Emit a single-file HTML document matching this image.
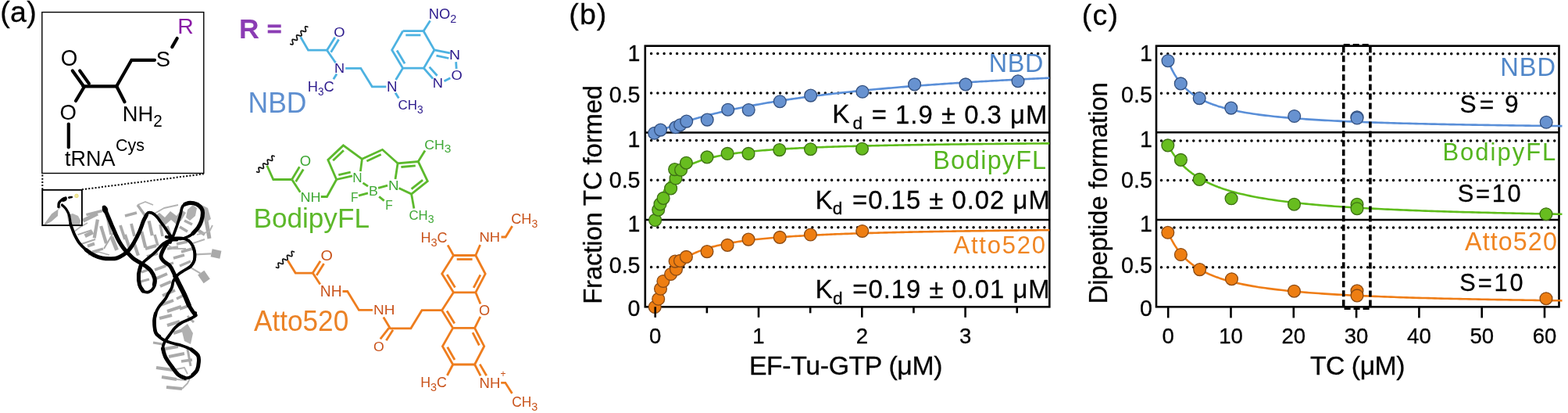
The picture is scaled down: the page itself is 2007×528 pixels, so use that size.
<!DOCTYPE html>
<html><head><meta charset="utf-8"><title>Figure</title>
<style>
html,body{margin:0;padding:0;background:#fff;}
svg{display:block;}
text{font-family:"Liberation Sans", sans-serif;}
</style></head><body>
<svg width="2007" height="528" viewBox="0 0 2007 528">
<rect width="2007" height="528" fill="#fff"/>
<path d="M56.5,286.5 L62.0,279.0 L66.0,273.5 L70.0,270.5 L74.5,267.5 L74.0,276.0 L66.0,283.0 L58.0,287.5Z" fill="#ababab"/>
<path d="M86.0,275.0 L93.0,273.0 L100.0,276.0 L103.0,282.0 L102.0,287.5 L90.0,287.5 L87.0,282.0Z" fill="#b3b3b3"/>
<path d="M74.5,268.0 L80.0,262.0" fill="none" stroke="#c8c8c8" stroke-width="1.2" stroke-linejoin="round"/>
<line x1="106.2" y1="282.3" x2="124.9" y2="272.9" stroke="#aaaaaa" stroke-width="5"/>
<line x1="110.4" y1="274.6" x2="130.9" y2="269.5" stroke="#aaaaaa" stroke-width="3.5"/>
<line x1="124.9" y1="280.6" x2="120.7" y2="304.4" stroke="#aaaaaa" stroke-width="4.2"/>
<line x1="99.4" y1="300.1" x2="117.3" y2="294.2" stroke="#aaaaaa" stroke-width="2"/>
<line x1="108.7" y1="301.8" x2="119.0" y2="296.7" stroke="#aaaaaa" stroke-width="5"/>
<line x1="129.2" y1="289.0" x2="136.0" y2="311.2" stroke="#aaaaaa" stroke-width="4.2"/>
<line x1="142.8" y1="302.7" x2="149.6" y2="319.7" stroke="#aaaaaa" stroke-width="5"/>
<line x1="112.0" y1="314.6" x2="121.0" y2="311.5" stroke="#aaaaaa" stroke-width="4"/>
<line x1="118.0" y1="322.0" x2="132.0" y2="318.0" stroke="#aaaaaa" stroke-width="3.2"/>
<line x1="133.0" y1="318.0" x2="146.0" y2="296.0" stroke="#aaaaaa" stroke-width="2"/>
<line x1="104.0" y1="312.0" x2="122.0" y2="306.0" stroke="#aaaaaa" stroke-width="2"/>
<line x1="137.0" y1="276.0" x2="142.0" y2="300.0" stroke="#aaaaaa" stroke-width="3.5"/>
<path d="M95.0,296.0 L103.0,290.0 L112.0,285.0" fill="none" stroke="#b3b3b3" stroke-width="1.8" stroke-linejoin="round"/>
<path d="M113.0,326.0 L126.0,322.0 L140.0,326.0" fill="none" stroke="#b3b3b3" stroke-width="1.8" stroke-linejoin="round"/>
<line x1="190.6" y1="282.4" x2="194.8" y2="301.1" stroke="#aaaaaa" stroke-width="4.2"/>
<line x1="181.2" y1="296.0" x2="186.3" y2="316.4" stroke="#aaaaaa" stroke-width="4.2"/>
<line x1="171.8" y1="311.3" x2="176.9" y2="326.7" stroke="#aaaaaa" stroke-width="4.2"/>
<line x1="160.0" y1="300.0" x2="166.0" y2="318.0" stroke="#aaaaaa" stroke-width="4.0"/>
<line x1="154.0" y1="288.0" x2="160.0" y2="306.0" stroke="#aaaaaa" stroke-width="3.8"/>
<path d="M198.0,277.0 L204.0,272.0 L211.0,278.0 L218.0,270.0 L226.0,276.0 L232.0,268.0 L238.0,272.0 L232.0,282.0 L226.0,287.0 L219.0,281.0 L211.0,288.0 L204.0,283.0Z" fill="#aaaaaa"/>
<path d="M240.0,268.0 L247.0,262.0 L252.0,266.0 L250.0,276.0 L243.0,282.0 L238.0,278.0Z" fill="#b0b0b0"/>
<line x1="205.0" y1="287.0" x2="208.0" y2="302.0" stroke="#aaaaaa" stroke-width="3.5"/>
<line x1="214.0" y1="289.0" x2="218.0" y2="300.0" stroke="#aaaaaa" stroke-width="3.5"/>
<path d="M196.0,274.0 L210.0,266.0 L228.0,262.0" fill="none" stroke="#b3b3b3" stroke-width="1.8" stroke-linejoin="round"/>
<line x1="262.0" y1="270.0" x2="268.0" y2="305.0" stroke="#a8a8a8" stroke-width="5"/>
<path d="M258.0,262.0 L266.0,266.0 L270.0,280.0 L264.0,284.0Z" fill="#b0b0b0"/>
<line x1="253.0" y1="294.0" x2="262.0" y2="300.0" stroke="#aaaaaa" stroke-width="4"/>
<line x1="214.0" y1="318.0" x2="228.0" y2="316.0" stroke="#aaaaaa" stroke-width="3.5"/>
<line x1="222.0" y1="330.0" x2="236.0" y2="326.0" stroke="#aaaaaa" stroke-width="3.5"/>
<line x1="230.0" y1="340.0" x2="244.0" y2="334.0" stroke="#aaaaaa" stroke-width="3.2"/>
<line x1="210.0" y1="340.0" x2="222.0" y2="336.0" stroke="#aaaaaa" stroke-width="3.2"/>
<path d="M210.0,310.0 L222.0,318.0 L238.0,318.0" fill="none" stroke="#b3b3b3" stroke-width="1.8" stroke-linejoin="round"/>
<path d="M250.6,325.3 L270.5,324.4" fill="none" stroke="#b3b3b3" stroke-width="2.2" stroke-linejoin="round"/>
<rect x="-6" y="-5" width="12" height="10" fill="#a9a9a9" transform="translate(276.5,324.5) rotate(12)"/>
<path d="M242.0,340.9 L256.3,349.4" fill="none" stroke="#b3b3b3" stroke-width="2.2" stroke-linejoin="round"/>
<rect x="-5" y="-6.5" width="10" height="13" fill="#a9a9a9" transform="translate(261,354) rotate(-35)"/>
<path d="M244.0,312.0 L262.0,306.0" fill="none" stroke="#b3b3b3" stroke-width="2.0" stroke-linejoin="round"/>
<line x1="181.0" y1="348.0" x2="192.0" y2="344.0" stroke="#aaaaaa" stroke-width="3.2"/>
<line x1="180.0" y1="360.0" x2="191.0" y2="357.0" stroke="#aaaaaa" stroke-width="3.2"/>
<line x1="198.0" y1="345.0" x2="212.0" y2="340.0" stroke="#aaaaaa" stroke-width="3.5"/>
<line x1="200.0" y1="356.0" x2="214.0" y2="350.0" stroke="#aaaaaa" stroke-width="4"/>
<line x1="205.0" y1="366.0" x2="219.0" y2="360.0" stroke="#aaaaaa" stroke-width="4"/>
<line x1="208.0" y1="378.0" x2="224.0" y2="371.0" stroke="#aaaaaa" stroke-width="4"/>
<line x1="206.0" y1="390.0" x2="222.0" y2="384.0" stroke="#aaaaaa" stroke-width="4"/>
<line x1="214.0" y1="398.0" x2="232.0" y2="392.0" stroke="#aaaaaa" stroke-width="4"/>
<line x1="226.0" y1="382.0" x2="238.0" y2="376.0" stroke="#aaaaaa" stroke-width="3.5"/>
<line x1="230.0" y1="395.0" x2="244.0" y2="390.0" stroke="#aaaaaa" stroke-width="3.5"/>
<line x1="204.0" y1="407.0" x2="220.0" y2="403.0" stroke="#aaaaaa" stroke-width="4"/>
<line x1="214.0" y1="416.0" x2="230.0" y2="411.0" stroke="#aaaaaa" stroke-width="4"/>
<line x1="222.0" y1="426.0" x2="240.0" y2="420.0" stroke="#aaaaaa" stroke-width="4"/>
<path d="M232.0,420.0 L240.0,414.0 L247.0,426.0 L244.0,440.0 L236.0,436.0Z" fill="#b0b0b0"/>
<line x1="240.0" y1="404.0" x2="248.0" y2="412.0" stroke="#aaaaaa" stroke-width="3"/>
<line x1="211.0" y1="446.0" x2="228.0" y2="443.0" stroke="#aaaaaa" stroke-width="4"/>
<line x1="216.0" y1="456.0" x2="236.0" y2="452.0" stroke="#aaaaaa" stroke-width="4"/>
<line x1="232.0" y1="462.0" x2="246.0" y2="460.0" stroke="#aaaaaa" stroke-width="3.5"/>
<line x1="240.0" y1="446.0" x2="244.0" y2="468.0" stroke="#aaaaaa" stroke-width="3"/>
<line x1="200.0" y1="470.0" x2="221.0" y2="473.0" stroke="#aaaaaa" stroke-width="4.2"/>
<line x1="207.0" y1="482.0" x2="226.0" y2="485.0" stroke="#aaaaaa" stroke-width="4.2"/>
<line x1="213.0" y1="495.0" x2="233.0" y2="497.0" stroke="#aaaaaa" stroke-width="4.2"/>
<path d="M221.0,473.0 L236.0,470.0 L240.0,478.0" fill="none" stroke="#b3b3b3" stroke-width="1.8" stroke-linejoin="round"/>
<path d="M226.0,485.0 L238.0,486.0 L244.0,480.0" fill="none" stroke="#b3b3b3" stroke-width="1.8" stroke-linejoin="round"/>
<path d="M233.0,497.0 L240.0,490.0 L243.0,484.0" fill="none" stroke="#b3b3b3" stroke-width="1.8" stroke-linejoin="round"/>
<line x1="196.0" y1="438.0" x2="208.0" y2="440.0" stroke="#aaaaaa" stroke-width="3"/>
<line x1="186.0" y1="318.0" x2="200.0" y2="314.0" stroke="#aaaaaa" stroke-width="4"/>
<line x1="188.0" y1="328.0" x2="202.0" y2="324.0" stroke="#aaaaaa" stroke-width="3.5"/>
<line x1="198.0" y1="300.0" x2="202.0" y2="314.0" stroke="#aaaaaa" stroke-width="3.5"/>
<line x1="168.0" y1="286.0" x2="172.0" y2="302.0" stroke="#aaaaaa" stroke-width="3.8"/>
<line x1="160.0" y1="276.0" x2="175.0" y2="272.0" stroke="#aaaaaa" stroke-width="3.5"/>
<line x1="176.0" y1="262.0" x2="186.0" y2="276.0" stroke="#aaaaaa" stroke-width="3.5"/>
<line x1="230.0" y1="290.0" x2="240.0" y2="296.0" stroke="#aaaaaa" stroke-width="3.5"/>
<line x1="236.0" y1="282.0" x2="246.0" y2="287.0" stroke="#aaaaaa" stroke-width="3.5"/>
<line x1="226.0" y1="312.0" x2="240.0" y2="309.0" stroke="#aaaaaa" stroke-width="3.5"/>
<line x1="232.0" y1="322.0" x2="246.0" y2="318.0" stroke="#aaaaaa" stroke-width="3.5"/>
<path d="M176.0,262.0 L186.0,258.0 L196.0,262.0" fill="none" stroke="#b3b3b3" stroke-width="1.8" stroke-linejoin="round"/>
<path d="M252.0,300.0 L268.0,296.0 L272.0,288.0" fill="none" stroke="#b3b3b3" stroke-width="1.8" stroke-linejoin="round"/>
<path d="M84.0,253.0 C83.2,253.4 80.4,254.4 79.0,255.5 C77.6,256.6 76.2,258.0 75.5,259.5 C74.8,261.0 75.1,263.7 75.0,264.5" fill="none" stroke="#000" stroke-width="3.4" stroke-linecap="round" stroke-linejoin="round"/>
<ellipse cx="82" cy="255" rx="3.8" ry="2.6" fill="#000" transform="rotate(-20 82 255)"/>
<path d="M79.5,262.0 C80.2,262.8 82.7,264.8 84.0,266.5 C85.3,268.2 86.6,270.5 87.5,272.5 C88.4,274.5 88.8,276.2 89.2,278.5 C89.7,280.8 90.0,284.8 90.2,286.0" fill="none" stroke="#000" stroke-width="3.2" stroke-linecap="round" stroke-linejoin="round"/>
<path d="M88.3,252.6 C88.9,252.5 91.2,252.1 91.8,252.0" fill="none" stroke="#000" stroke-width="2.6" stroke-linecap="round" stroke-linejoin="round"/>
<circle cx="98" cy="250.4" r="2.3" fill="#f3eba0" stroke="#e6d870" stroke-width="0.8"/>
<path d="M90.2,286.0 C90.4,286.7 90.7,287.8 91.5,290.0 C92.3,292.2 93.4,295.8 95.1,299.3 C96.8,302.8 99.4,307.8 101.9,311.2 C104.5,314.6 107.3,317.1 110.4,319.7 C113.5,322.2 117.3,324.8 120.7,326.5 C124.1,328.2 127.5,329.3 130.9,330.0 C134.3,330.7 138.0,330.8 141.1,330.8 C144.2,330.8 146.8,330.9 149.6,330.0 C152.4,329.1 155.5,327.4 158.1,325.7 C160.7,324.0 162.7,322.4 165.0,319.7 C167.3,317.0 169.5,313.5 171.8,309.5 C174.1,305.5 176.6,300.4 178.6,295.9 C180.6,291.4 182.0,286.2 183.7,282.3 C185.4,278.4 187.2,274.2 188.9,272.5 C190.6,270.8 192.4,271.7 194.0,272.1 C195.6,272.5 196.9,273.7 198.2,274.7 C199.5,275.7 200.3,276.5 201.6,278.1 C202.9,279.7 204.3,282.0 205.9,284.1 C207.5,286.2 209.3,288.5 211.0,290.9 C212.7,293.3 214.7,296.6 216.1,298.6 C217.5,300.6 218.9,302.1 219.5,302.8" fill="none" stroke="#000" stroke-width="3.8" stroke-linecap="round" stroke-linejoin="round"/>
<path d="M110.4,319.7 C112.1,320.8 117.3,324.8 120.7,326.5 C124.1,328.2 127.5,329.3 130.9,330.0 C134.3,330.7 138.0,330.8 141.1,330.8 C144.2,330.8 146.8,330.9 149.6,330.0 C152.4,329.1 155.5,327.4 158.1,325.7 C160.7,324.0 162.7,322.4 165.0,319.7 C167.3,317.0 169.5,313.5 171.8,309.5 C174.1,305.5 176.6,300.4 178.6,295.9 C180.6,291.4 182.2,285.8 183.7,282.3 C185.2,278.8 186.9,276.2 187.5,275.0" fill="none" stroke="#000" stroke-width="5.0" stroke-linecap="round" stroke-linejoin="round"/>
<path d="M133.4,265.2 C134.1,266.9 136.1,271.7 137.7,275.4 C139.3,279.1 141.1,283.4 142.8,287.4 C144.5,291.4 146.2,295.6 147.9,299.3 C149.6,303.0 151.3,306.5 153.0,309.5 C154.7,312.5 156.4,314.9 158.1,317.2 C159.8,319.5 161.3,321.0 163.3,323.1 C165.3,325.2 167.7,328.0 170.1,330.0 C172.5,332.0 175.3,333.3 178.0,335.0 C180.7,336.7 183.5,338.2 186.0,340.0 C188.5,341.8 191.0,343.3 193.0,346.0 C195.0,348.7 197.2,352.7 198.0,356.0 C198.8,359.3 198.7,363.2 197.5,366.0 C196.3,368.8 193.4,372.0 191.0,373.0 C188.6,374.0 185.1,373.5 183.0,372.0 C180.9,370.5 179.4,367.5 178.5,364.0 C177.6,360.5 177.2,355.0 177.5,351.0 C177.8,347.0 178.6,343.0 180.0,340.0 C181.4,337.0 183.2,335.7 186.0,333.0 C188.8,330.3 193.1,327.5 197.0,323.9 C200.9,320.3 205.7,314.3 209.2,311.5 C212.7,308.7 215.1,307.8 218.0,307.0 C220.9,306.2 225.1,306.7 226.5,306.6" fill="none" stroke="#000" stroke-width="3.8" stroke-linecap="round" stroke-linejoin="round"/>
<path d="M133.4,265.2 C134.1,266.9 136.1,271.7 137.7,275.4 C139.3,279.1 141.1,283.4 142.8,287.4 C144.5,291.4 146.2,295.6 147.9,299.3 C149.6,303.0 151.3,306.5 153.0,309.5 C154.7,312.5 156.4,314.9 158.1,317.2 C159.8,319.5 161.3,321.0 163.3,323.1 C165.3,325.2 167.7,328.0 170.1,330.0 C172.5,332.0 175.3,333.3 178.0,335.0 C180.7,336.7 183.5,338.2 186.0,340.0 C188.5,341.8 191.0,343.3 193.0,346.0 C195.0,348.7 197.2,353.0 198.0,356.0 C198.8,359.0 197.6,362.7 197.5,364.0" fill="none" stroke="#000" stroke-width="5.2" stroke-linecap="round" stroke-linejoin="round"/>
<ellipse cx="134.5" cy="268" rx="3.6" ry="5" fill="#000" transform="rotate(-20 134.5 268)"/>
<path d="M183.0,372.0 C182.2,370.7 179.4,367.5 178.5,364.0 C177.6,360.5 177.2,355.0 177.5,351.0 C177.8,347.0 179.6,341.8 180.0,340.0" fill="none" stroke="#000" stroke-width="5.0" stroke-linecap="round" stroke-linejoin="round"/>
<path d="M216.1,302.8 C217.2,303.1 220.3,304.1 222.9,304.5 C225.5,304.9 228.6,305.7 231.4,305.4 C234.2,305.1 237.4,303.9 240.0,302.8 C242.6,301.7 244.5,300.6 246.8,298.6 C249.1,296.6 251.8,293.6 253.6,290.9 C255.4,288.2 256.8,285.5 257.8,282.4 C258.8,279.3 259.5,274.8 259.5,272.1 C259.5,269.4 259.1,268.0 257.8,266.2 C256.5,264.4 254.3,262.2 251.9,261.1 C249.5,260.0 246.0,259.4 243.4,259.4 C240.8,259.4 238.3,260.1 236.6,261.1 C234.9,262.1 234.1,262.9 233.1,265.3 C232.1,267.7 231.7,271.6 230.6,275.6 C229.5,279.6 227.9,284.7 226.3,289.2 C224.7,293.7 222.6,299.3 221.2,302.8 C219.8,306.3 218.5,308.8 218.0,310.0" fill="none" stroke="#000" stroke-width="3.6" stroke-linecap="round" stroke-linejoin="round"/>
<path d="M246.8,298.6 C247.9,297.3 251.8,293.6 253.6,290.9 C255.4,288.2 256.8,285.5 257.8,282.4 C258.8,279.3 259.5,274.8 259.5,272.1 C259.5,269.4 259.1,268.0 257.8,266.2 C256.5,264.4 254.3,262.2 251.9,261.1 C249.5,260.0 245.9,259.4 243.4,259.4 C240.9,259.4 238.1,260.7 237.0,261.0" fill="none" stroke="#000" stroke-width="5.2" stroke-linecap="round" stroke-linejoin="round"/>
<path d="M212.7,302.8 C214.1,303.1 217.8,304.2 221.2,304.5 C224.6,304.8 229.7,303.9 233.1,304.5 C236.5,305.1 239.4,306.2 241.7,307.9 C244.0,309.6 245.5,312.1 246.8,314.7 C248.1,317.3 249.0,320.2 249.3,323.3 C249.6,326.4 249.4,330.6 248.5,333.5 C247.6,336.4 246.1,338.5 244.0,340.5 C241.9,342.5 238.7,343.8 236.0,345.5 C233.3,347.2 230.3,348.8 228.0,351.0 C225.7,353.2 223.3,356.2 222.0,359.0 C220.7,361.8 221.1,364.8 220.0,367.5 C218.9,370.2 216.9,372.6 215.5,375.0 C214.1,377.4 213.7,379.2 211.7,382.1 C209.7,385.0 205.4,389.4 203.3,392.5 C201.2,395.6 200.2,397.9 199.2,400.8 C198.2,403.7 197.5,406.0 197.5,410.0 C197.5,414.0 197.5,421.1 199.2,425.0 C200.9,428.9 204.0,431.1 207.5,433.3 C211.0,435.6 215.8,437.1 220.0,438.5 C224.2,439.9 228.3,440.3 232.5,441.7 C236.7,443.1 241.5,444.8 245.0,446.9 C248.5,449.0 251.7,451.6 253.3,454.2 C254.9,456.8 254.6,459.4 254.4,462.5 C254.2,465.6 253.9,469.8 252.3,472.9 C250.7,476.0 247.6,479.6 245.0,481.3 C242.4,483.0 239.5,483.7 236.7,483.3 C233.9,482.9 231.1,481.6 228.3,479.2 C225.5,476.8 222.8,472.6 220.0,468.8 C217.2,465.0 213.6,460.1 211.7,456.3 C209.8,452.5 208.7,448.9 208.5,445.8 C208.3,442.7 209.0,440.6 210.6,437.5 C212.2,434.4 215.6,430.2 217.9,427.1 C220.2,424.0 221.8,421.2 224.2,418.8 C226.6,416.4 229.6,414.2 232.5,412.5 C235.4,410.8 239.1,409.7 241.9,408.3 C244.7,406.9 247.8,405.6 249.2,404.2 C250.6,402.8 250.0,400.7 250.2,400.0" fill="none" stroke="#000" stroke-width="3.8" stroke-linecap="round" stroke-linejoin="round"/>
<path d="M246.8,314.7 C247.2,316.1 249.0,320.2 249.3,323.3 C249.6,326.4 249.4,330.6 248.5,333.5 C247.6,336.4 244.8,339.3 244.0,340.5" fill="none" stroke="#000" stroke-width="3.6" stroke-linecap="round" stroke-linejoin="round"/>
<path d="M199.2,400.8 C198.9,402.3 197.5,406.0 197.5,410.0 C197.5,414.0 198.1,421.7 199.2,425.0 C200.3,428.3 203.2,429.2 204.0,430.0" fill="none" stroke="#000" stroke-width="4.6" stroke-linecap="round" stroke-linejoin="round"/>
<path d="M208.5,445.8 C209.0,447.6 209.8,452.5 211.7,456.3 C213.6,460.1 217.2,465.0 220.0,468.8 C222.8,472.6 225.5,476.8 228.3,479.2 C231.1,481.6 235.3,482.6 236.7,483.3" fill="none" stroke="#000" stroke-width="5.0" stroke-linecap="round" stroke-linejoin="round"/>
<path d="M245.0,446.9 C246.4,448.1 251.7,451.6 253.3,454.2 C254.9,456.8 254.6,459.4 254.4,462.5 C254.2,465.6 253.5,470.1 252.3,472.9 C251.1,475.6 247.9,478.0 247.0,479.0" fill="none" stroke="#000" stroke-width="5.0" stroke-linecap="round" stroke-linejoin="round"/>
<path d="M221.2,304.5 C220.0,305.6 216.1,308.4 214.0,311.0 C211.9,313.6 209.8,317.2 208.5,320.0 C207.2,322.8 205.8,325.7 206.0,328.0 C206.2,330.3 207.6,331.9 209.6,334.0 C211.6,336.1 215.5,337.2 217.9,340.4 C220.3,343.5 222.1,348.7 224.2,352.9 C226.3,357.1 228.3,361.2 230.4,365.4 C232.5,369.6 234.8,373.7 236.7,377.9 C238.6,382.1 240.2,386.9 241.9,390.4 C243.6,393.9 245.7,396.7 247.1,398.8 C248.5,400.9 249.7,402.2 250.2,402.9" fill="none" stroke="#000" stroke-width="5.0" stroke-linecap="round" stroke-linejoin="round"/>
<path d="M224.2,352.9 C225.2,355.0 228.3,361.2 230.4,365.4 C232.5,369.6 234.8,373.7 236.7,377.9 C238.6,382.1 241.0,388.3 241.9,390.4" fill="none" stroke="#000" stroke-width="6.0" stroke-linecap="round" stroke-linejoin="round"/>
<rect x="53.8" y="15.6" width="207" height="205.9" fill="none" stroke="#000" stroke-width="1.4"/>
<path d="M220.3,60.1 L226.7,49.0" fill="none" stroke="#000" stroke-width="4.2" stroke-linejoin="miter" stroke-linecap="round" />
<path d="M198.0,76.8 L168.4,76.8 L149.2,110.3" fill="none" stroke="#000" stroke-width="4.2" stroke-linejoin="miter" stroke-linecap="round" />
<path d="M149.2,110.3 L106.5,110.3" fill="none" stroke="#000" stroke-width="4.2" stroke-linejoin="miter" stroke-linecap="round" />
<path d="M149.2,110.3 L159.5,130.2" fill="none" stroke="#000" stroke-width="4.2" stroke-linejoin="miter" stroke-linecap="round" />
<path d="M92.8,90.5 L106.5,109.5" fill="none" stroke="#000" stroke-width="4.2" stroke-linejoin="miter" stroke-linecap="round" />
<path d="M102.2,90.5 L113.9,106.9" fill="none" stroke="#000" stroke-width="4.2" stroke-linejoin="miter" stroke-linecap="round" />
<path d="M107.5,111.5 L97.0,129.0" fill="none" stroke="#000" stroke-width="4.2" stroke-linejoin="miter" stroke-linecap="round" />
<path d="M87.8,158.5 L87.8,188.3" fill="none" stroke="#000" stroke-width="4.2" stroke-linejoin="miter" stroke-linecap="round" />
<text x="227.31" y="42.90" font-size="27.39" fill="#8a1aa6" textLength="20.52" lengthAdjust="spacingAndGlyphs" >R</text>
<text x="199.72" y="85.30" font-size="27.68" fill="#000" textLength="18.29" lengthAdjust="spacingAndGlyphs" >S</text>
<text x="77.75" y="84.20" font-size="28.99" fill="#000" textLength="21.54" lengthAdjust="spacingAndGlyphs" >O</text>
<text x="76.61" y="153.10" font-size="27.83" fill="#000" textLength="21.42" lengthAdjust="spacingAndGlyphs" >O</text>
<text x="156.82" y="154.50" font-size="28.55" fill="#000" textLength="50.98" lengthAdjust="spacingAndGlyphs" >NH<tspan dy="7.99" font-size="21.60">2</tspan></text>
<text x="83.02" y="212.10" font-size="28.26" fill="#000" textLength="64.38" lengthAdjust="spacingAndGlyphs" >tRNA</text>
<text x="148.12" y="193.30" font-size="21.59" fill="#000" textLength="36.94" lengthAdjust="spacingAndGlyphs" >Cys</text>
<rect x="54.2" y="242.8" width="50.7" height="45.3" fill="none" stroke="#000" stroke-width="1.9"/>
<line x1="54.3" y1="223.5" x2="54.3" y2="242" stroke="#000" stroke-width="2" stroke-dasharray="2 2.2"/>
<line x1="104.9" y1="242.3" x2="260.6" y2="222.4" stroke="#000" stroke-width="2" stroke-dasharray="2 2.2"/>
<text x="306.43" y="48.30" font-size="32.17" fill="#8b3db4" textLength="24.65" lengthAdjust="spacingAndGlyphs" stroke="#8b3db4" stroke-width="1.8">R</text>
<rect x="342.7" y="31.4" width="17" height="3.9" fill="#8b3db4"/><rect x="342.7" y="38.5" width="17" height="3.9" fill="#8b3db4"/>
<path d="M371.80,56.40 L372.58,56.63 L373.31,56.81 L373.94,56.89 L374.45,56.85 L374.80,56.65 L375.00,56.30 L375.04,55.79 L374.96,55.16 L374.78,54.43 L374.55,53.65 L374.32,52.87 L374.14,52.14 L374.06,51.51 L374.10,51.00 L374.30,50.65 L374.65,50.45 L375.16,50.41 L375.79,50.49 L376.52,50.67 L377.30,50.90 L378.08,51.13 L378.81,51.31 L379.44,51.39 L379.95,51.35 L380.30,51.15 L380.50,50.80 L380.54,50.29 L380.46,49.66 L380.28,48.93 L380.05,48.15 L379.82,47.37 L379.64,46.64 L379.56,46.01 L379.60,45.50 L379.80,45.15 L380.15,44.95 L380.66,44.91 L381.29,44.99 L382.02,45.17 L382.80,45.40 L383.58,45.63 L384.31,45.81 L384.94,45.89 L385.45,45.85 L385.80,45.65 L386.00,45.30 L386.04,44.79 L385.96,44.16 L385.78,43.43 L385.55,42.65 L385.32,41.87 L385.14,41.14 L385.06,40.51 L385.10,40.00 L385.30,39.65 L385.65,39.45 L386.16,39.41 L386.79,39.49 L387.52,39.67 L388.30,39.90 L389.08,40.13 L389.81,40.31 L390.44,40.39 L390.95,40.35 L391.30,40.15 L391.50,39.80 L391.54,39.29 L391.46,38.66 L391.28,37.93 L391.05,37.15 L390.82,36.37 L390.64,35.64 L390.56,35.01 L390.60,34.50 L390.80,34.15 L391.15,33.95 L391.66,33.91 L392.29,33.99 L393.02,34.17 L393.80,34.40" fill="none" stroke="#111" stroke-width="1.7" stroke-linecap="round"/>
<path d="M384.7,47.3 L394.5,64.2 L418.5,64.2" fill="none" stroke="#4db2e1" stroke-width="2.8" stroke-linejoin="miter" stroke-linecap="butt" />
<path d="M418.5,64.2 L428.8,47.8" fill="none" stroke="#4db2e1" stroke-width="2.8" stroke-linejoin="miter" stroke-linecap="butt" />
<path d="M423.6,66.8 L433.6,50.4" fill="none" stroke="#4db2e1" stroke-width="2.8" stroke-linejoin="miter" stroke-linecap="butt" />
<path d="M418.5,64.2 L429.6,80.2" fill="none" stroke="#4db2e1" stroke-width="2.8" stroke-linejoin="miter" stroke-linecap="butt" />
<text x="427.34" y="46.60" font-size="17.10" fill="#2c1a8c" textLength="14.27" lengthAdjust="spacingAndGlyphs" >O</text>
<text x="428.02" y="93.20" font-size="17.25" fill="#2c1a8c" textLength="13.10" lengthAdjust="spacingAndGlyphs" >N</text>
<path d="M442.2,87.3 L461.8,87.3 L476.3,110.8 L494.3,110.8" fill="none" stroke="#4db2e1" stroke-width="2.8" stroke-linejoin="miter" stroke-linecap="butt" />
<path d="M431.0,94.5 L426.8,101.2" fill="none" stroke="#4db2e1" stroke-width="2.8" stroke-linejoin="miter" stroke-linecap="butt" />
<text x="393.78" y="117.10" font-size="18.99" fill="#2c1a8c" textLength="33.92" lengthAdjust="spacingAndGlyphs" >H<tspan dy="5.32" font-size="14.00">3</tspan><tspan dy="-5.32">C</tspan></text>
<text x="494.96" y="117.10" font-size="17.97" fill="#2c1a8c" textLength="13.51" lengthAdjust="spacingAndGlyphs" >N</text>
<path d="M506.6,102.0 L515.6,87.1" fill="none" stroke="#4db2e1" stroke-width="2.8" stroke-linejoin="miter" stroke-linecap="butt" />
<path d="M506.1,118.8 L510.4,125.6" fill="none" stroke="#4db2e1" stroke-width="2.8" stroke-linejoin="miter" stroke-linecap="butt" />
<text x="509.54" y="140.10" font-size="17.25" fill="#2c1a8c" textLength="32.11" lengthAdjust="spacingAndGlyphs" >CH<tspan dy="4.83" font-size="14.00">3</tspan></text>
<path d="M515.6,39.7 L542.1,39.7 L555.9,63.9 L542.4,87.1 L515.6,87.1 L501.7,63.9 L515.6,39.7" fill="none" stroke="#4db2e1" stroke-width="2.8" stroke-linejoin="miter" stroke-linecap="butt" />
<path d="M519.3,44.9 L538.4,44.9" fill="none" stroke="#4db2e1" stroke-width="2.8" stroke-linejoin="miter" stroke-linecap="butt" />
<path d="M518.1,81.2 L508.1,64.5" fill="none" stroke="#4db2e1" stroke-width="2.8" stroke-linejoin="miter" stroke-linecap="butt" />
<path d="M542.1,39.7 L550.6,26.5" fill="none" stroke="#4db2e1" stroke-width="2.8" stroke-linejoin="miter" stroke-linecap="butt" />
<text x="548.77" y="23.70" font-size="17.83" fill="#2c1a8c" textLength="35.57" lengthAdjust="spacingAndGlyphs" >NO<tspan dy="4.99" font-size="14.00">2</tspan></text>
<path d="M555.9,63.9 L576.0,67.9" fill="none" stroke="#4db2e1" stroke-width="2.8" stroke-linejoin="miter" stroke-linecap="butt" />
<path d="M558.5,71.2 L574.4,74.5" fill="none" stroke="#4db2e1" stroke-width="2.8" stroke-linejoin="miter" stroke-linecap="butt" />
<text x="575.01" y="75.90" font-size="17.39" fill="#2c1a8c" textLength="14.12" lengthAdjust="spacingAndGlyphs" >N</text>
<path d="M583.7,79.2 L584.2,87.8" fill="none" stroke="#4db2e1" stroke-width="2.8" stroke-linejoin="miter" stroke-linecap="butt" />
<text x="577.54" y="102.00" font-size="17.10" fill="#2c1a8c" textLength="14.27" lengthAdjust="spacingAndGlyphs" >O</text>
<path d="M576.4,99.7 L568.5,103.7" fill="none" stroke="#4db2e1" stroke-width="2.8" stroke-linejoin="miter" stroke-linecap="butt" />
<text x="553.89" y="112.30" font-size="16.38" fill="#2c1a8c" textLength="13.26" lengthAdjust="spacingAndGlyphs" >N</text>
<path d="M542.4,87.1 L554.2,100.6" fill="none" stroke="#4db2e1" stroke-width="2.8" stroke-linejoin="miter" stroke-linecap="butt" />
<path d="M549.6,85.6 L559.6,96.8" fill="none" stroke="#4db2e1" stroke-width="2.8" stroke-linejoin="miter" stroke-linecap="butt" />
<text x="317.54" y="143.75" font-size="37.03" fill="#5e8fd0" textLength="74.92" lengthAdjust="spacingAndGlyphs" >NBD</text>
<path d="M328.60,219.60 L329.35,219.89 L330.06,220.12 L330.67,220.25 L331.17,220.25 L331.53,220.09 L331.73,219.76 L331.80,219.26 L331.74,218.63 L331.60,217.91 L331.41,217.12 L331.22,216.34 L331.08,215.62 L331.03,214.99 L331.09,214.49 L331.30,214.16 L331.65,214.00 L332.15,214.00 L332.77,214.13 L333.47,214.36 L334.23,214.65 L334.98,214.94 L335.68,215.17 L336.30,215.30 L336.80,215.30 L337.15,215.14 L337.36,214.81 L337.42,214.31 L337.37,213.68 L337.23,212.96 L337.04,212.18 L336.85,211.39 L336.71,210.67 L336.65,210.04 L336.72,209.54 L336.92,209.21 L337.28,209.05 L337.78,209.05 L338.39,209.18 L339.10,209.41 L339.85,209.70 L340.60,209.99 L341.31,210.22 L341.92,210.35 L342.42,210.35 L342.78,210.19 L342.98,209.86 L343.05,209.36 L342.99,208.73 L342.85,208.01 L342.66,207.22 L342.47,206.44 L342.33,205.72 L342.28,205.09 L342.34,204.59 L342.55,204.26 L342.90,204.10 L343.40,204.10 L344.02,204.23 L344.72,204.46 L345.48,204.75 L346.23,205.04 L346.93,205.27 L347.55,205.40 L348.05,205.40 L348.40,205.24 L348.61,204.91 L348.67,204.41 L348.62,203.78 L348.48,203.06 L348.29,202.28 L348.10,201.49 L347.96,200.77 L347.90,200.14 L347.97,199.64 L348.17,199.31 L348.53,199.15 L349.03,199.15 L349.64,199.28 L350.35,199.51 L351.10,199.80" fill="none" stroke="#111" stroke-width="1.7" stroke-linecap="round"/>
<path d="M341.8,211.7 L349.8,229.5 L373.6,229.5" fill="none" stroke="#5cb92c" stroke-width="2.8" stroke-linejoin="miter" stroke-linecap="butt" />
<path d="M373.6,229.5 L383.4,213.3" fill="none" stroke="#5cb92c" stroke-width="2.8" stroke-linejoin="miter" stroke-linecap="butt" />
<path d="M378.6,232.3 L388.3,216.4" fill="none" stroke="#5cb92c" stroke-width="2.8" stroke-linejoin="miter" stroke-linecap="butt" />
<text x="383.70" y="211.80" font-size="17.97" fill="#3fa836" textLength="14.36" lengthAdjust="spacingAndGlyphs" >O</text>
<path d="M373.6,229.5 L384.3,245.8" fill="none" stroke="#5cb92c" stroke-width="2.8" stroke-linejoin="miter" stroke-linecap="butt" />
<text x="384.53" y="257.80" font-size="17.10" fill="#3fa836" textLength="25.97" lengthAdjust="spacingAndGlyphs" >NH</text>
<path d="M410.7,251.5 L418.5,251.5 L430.7,229.5" fill="none" stroke="#5cb92c" stroke-width="2.8" stroke-linejoin="miter" stroke-linecap="butt" />
<path d="M430.7,229.5 L419.8,204.4 L439.4,185.9 L463.4,203.3 L461.4,219.2" fill="none" stroke="#5cb92c" stroke-width="2.8" stroke-linejoin="miter" stroke-linecap="butt" />
<path d="M426.2,205.3 L439.9,192.3" fill="none" stroke="#5cb92c" stroke-width="2.8" stroke-linejoin="miter" stroke-linecap="butt" />
<path d="M430.7,229.5 L451.0,224.8" fill="none" stroke="#5cb92c" stroke-width="2.8" stroke-linejoin="miter" stroke-linecap="butt" />
<path d="M433.3,223.7 L448.7,220.2" fill="none" stroke="#5cb92c" stroke-width="2.8" stroke-linejoin="miter" stroke-linecap="butt" />
<text x="451.25" y="232.70" font-size="15.65" fill="#3fa836" textLength="12.34" lengthAdjust="spacingAndGlyphs" >N</text>
<path d="M463.4,203.3 L489.5,191.3 L509.1,208.8" fill="none" stroke="#5cb92c" stroke-width="2.8" stroke-linejoin="miter" stroke-linecap="butt" />
<path d="M469.4,206.0 L487.7,197.6" fill="none" stroke="#5cb92c" stroke-width="2.8" stroke-linejoin="miter" stroke-linecap="butt" />
<path d="M506.0,229.0 L509.1,208.8 L535.3,206.6 L547.3,231.7 L526.6,248.0 L510.6,240.6" fill="none" stroke="#5cb92c" stroke-width="2.8" stroke-linejoin="miter" stroke-linecap="butt" />
<path d="M513.4,213.5 L531.8,211.9" fill="none" stroke="#5cb92c" stroke-width="2.8" stroke-linejoin="miter" stroke-linecap="butt" />
<path d="M541.1,230.2 L526.6,241.6" fill="none" stroke="#5cb92c" stroke-width="2.8" stroke-linejoin="miter" stroke-linecap="butt" />
<text x="496.91" y="242.60" font-size="17.39" fill="#3fa836" textLength="13.62" lengthAdjust="spacingAndGlyphs" >N</text>
<path d="M535.3,206.6 L544.0,192.4" fill="none" stroke="#5cb92c" stroke-width="2.8" stroke-linejoin="miter" stroke-linecap="butt" />
<text x="543.17" y="190.80" font-size="16.52" fill="#3fa836" textLength="34.19" lengthAdjust="spacingAndGlyphs" >CH<tspan dy="4.63" font-size="14.50">3</tspan></text>
<path d="M526.6,248.0 L529.9,266.5" fill="none" stroke="#5cb92c" stroke-width="2.8" stroke-linejoin="miter" stroke-linecap="butt" />
<text x="523.54" y="280.60" font-size="17.25" fill="#3fa836" textLength="32.03" lengthAdjust="spacingAndGlyphs" >CH<tspan dy="4.83" font-size="14.50">3</tspan></text>
<text x="471.94" y="250.20" font-size="15.80" fill="#3fa836" textLength="11.81" lengthAdjust="spacingAndGlyphs" >B</text>
<path d="M464.5,233.8 L471.0,238.2" fill="none" stroke="#5cb92c" stroke-width="2.8" stroke-linejoin="miter" stroke-linecap="butt" />
<path d="M484.1,240.4 L496.1,237.1" fill="none" stroke="#5cb92c" stroke-width="2.8" stroke-linejoin="miter" stroke-linecap="butt" />
<text x="449.04" y="257.80" font-size="15.80" fill="#3fa836" textLength="9.51" lengthAdjust="spacingAndGlyphs" >F</text>
<path d="M459.0,250.2 L471.0,246.9" fill="none" stroke="#5cb92c" stroke-width="2.8" stroke-linejoin="miter" stroke-linecap="butt" />
<text x="493.34" y="267.60" font-size="15.80" fill="#3fa836" textLength="9.51" lengthAdjust="spacingAndGlyphs" >F</text>
<path d="M485.2,251.3 L491.7,256.7" fill="none" stroke="#5cb92c" stroke-width="2.8" stroke-linejoin="miter" stroke-linecap="butt" />
<text x="324.47" y="291.10" font-size="35.36" fill="#5cb82a" textLength="148.51" lengthAdjust="spacingAndGlyphs" >BodipyFL</text>
<path d="M353.50,341.70 L354.25,341.99 L354.95,342.23 L355.57,342.37 L356.07,342.37 L356.43,342.21 L356.64,341.88 L356.72,341.39 L356.67,340.75 L356.54,340.02 L356.36,339.24 L356.19,338.45 L356.05,337.72 L356.01,337.09 L356.08,336.59 L356.29,336.26 L356.65,336.10 L357.15,336.10 L357.77,336.24 L358.48,336.48 L359.23,336.77 L359.97,337.07 L360.68,337.31 L361.30,337.45 L361.80,337.45 L362.16,337.29 L362.37,336.96 L362.44,336.46 L362.40,335.83 L362.26,335.10 L362.09,334.31 L361.91,333.53 L361.78,332.80 L361.73,332.16 L361.81,331.67 L362.02,331.34 L362.38,331.18 L362.88,331.18 L363.50,331.32 L364.20,331.56 L364.95,331.85 L365.70,332.14 L366.40,332.38 L367.02,332.52 L367.52,332.52 L367.88,332.36 L368.09,332.03 L368.17,331.54 L368.12,330.90 L367.99,330.17 L367.81,329.39 L367.64,328.60 L367.50,327.87 L367.46,327.24 L367.53,326.74 L367.74,326.41 L368.10,326.25 L368.60,326.25 L369.22,326.39 L369.93,326.63 L370.67,326.93 L371.42,327.22 L372.13,327.46 L372.75,327.60 L373.25,327.60 L373.61,327.44 L373.82,327.11 L373.89,326.61 L373.85,325.98 L373.71,325.25 L373.54,324.46 L373.36,323.68 L373.23,322.95 L373.18,322.31 L373.26,321.82 L373.47,321.49 L373.83,321.33 L374.33,321.33 L374.95,321.47 L375.65,321.71 L376.40,322.00" fill="none" stroke="#111" stroke-width="1.7" stroke-linecap="round"/>
<path d="M368.3,333.1 L378.2,349.1 L400.3,349.1" fill="none" stroke="#ee7d1e" stroke-width="2.8" stroke-linejoin="miter" stroke-linecap="butt" />
<path d="M400.3,349.1 L410.0,333.8" fill="none" stroke="#ee7d1e" stroke-width="2.8" stroke-linejoin="miter" stroke-linecap="butt" />
<path d="M405.2,351.9 L414.6,337.0" fill="none" stroke="#ee7d1e" stroke-width="2.8" stroke-linejoin="miter" stroke-linecap="butt" />
<text x="410.47" y="332.70" font-size="18.55" fill="#c9531b" textLength="15.41" lengthAdjust="spacingAndGlyphs" >O</text>
<path d="M400.3,349.1 L409.8,363.6" fill="none" stroke="#ee7d1e" stroke-width="2.8" stroke-linejoin="miter" stroke-linecap="butt" />
<text x="409.83" y="378.60" font-size="19.57" fill="#c9531b" textLength="27.77" lengthAdjust="spacingAndGlyphs" >NH</text>
<path d="M438.5,372.5 L444.7,372.5 L459.4,396.4 L477.0,396.4" fill="none" stroke="#ee7d1e" stroke-width="2.8" stroke-linejoin="miter" stroke-linecap="butt" />
<text x="478.12" y="402.30" font-size="17.25" fill="#c9531b" textLength="27.40" lengthAdjust="spacingAndGlyphs" >NH</text>
<path d="M490.8,405.6 L499.4,419.8 L525.9,419.8 L540.0,396.7 L565.6,396.7" fill="none" stroke="#ee7d1e" stroke-width="2.8" stroke-linejoin="miter" stroke-linecap="butt" />
<path d="M497.8,419.4 L486.8,433.4" fill="none" stroke="#ee7d1e" stroke-width="2.8" stroke-linejoin="miter" stroke-linecap="butt" />
<path d="M503.0,421.8 L494.4,435.2" fill="none" stroke="#ee7d1e" stroke-width="2.8" stroke-linejoin="miter" stroke-linecap="butt" />
<text x="478.14" y="448.70" font-size="17.25" fill="#c9531b" textLength="13.69" lengthAdjust="spacingAndGlyphs" >O</text>
<path d="M580.5,326.5 L608.8,326.5 L621.2,350.1 L608.8,373.8 L580.5,373.8 L565.7,350.1 L580.5,326.5" fill="none" stroke="#ee7d1e" stroke-width="2.8" stroke-linejoin="miter" stroke-linecap="butt" />
<path d="M584.7,331.5 L604.6,331.5" fill="none" stroke="#ee7d1e" stroke-width="2.8" stroke-linejoin="miter" stroke-linecap="butt" />
<path d="M614.9,351.3 L606.2,367.9" fill="none" stroke="#ee7d1e" stroke-width="2.8" stroke-linejoin="miter" stroke-linecap="butt" />
<path d="M582.5,367.6 L572.2,351.0" fill="none" stroke="#ee7d1e" stroke-width="2.8" stroke-linejoin="miter" stroke-linecap="butt" />
<path d="M579.7,419.4 L607.6,419.4 L619.7,442.7 L607.6,466.0 L579.7,466.0 L566.4,442.7 L579.7,419.4" fill="none" stroke="#ee7d1e" stroke-width="2.8" stroke-linejoin="miter" stroke-linecap="butt" />
<path d="M605.0,425.2 L613.4,441.5" fill="none" stroke="#ee7d1e" stroke-width="2.8" stroke-linejoin="miter" stroke-linecap="butt" />
<path d="M582.0,460.0 L572.7,443.7" fill="none" stroke="#ee7d1e" stroke-width="2.8" stroke-linejoin="miter" stroke-linecap="butt" />
<path d="M580.5,373.8 L565.6,396.7 L579.7,419.4" fill="none" stroke="#ee7d1e" stroke-width="2.8" stroke-linejoin="miter" stroke-linecap="butt" />
<path d="M572.0,397.5 L581.8,413.4" fill="none" stroke="#ee7d1e" stroke-width="2.8" stroke-linejoin="miter" stroke-linecap="butt" />
<path d="M608.8,373.8 L615.0,388.5" fill="none" stroke="#ee7d1e" stroke-width="2.8" stroke-linejoin="miter" stroke-linecap="butt" />
<path d="M614.9,404.8 L607.6,419.4" fill="none" stroke="#ee7d1e" stroke-width="2.8" stroke-linejoin="miter" stroke-linecap="butt" />
<text x="612.88" y="402.90" font-size="18.41" fill="#c9531b" textLength="14.10" lengthAdjust="spacingAndGlyphs" >O</text>
<path d="M580.5,326.5 L573.1,313.4" fill="none" stroke="#ee7d1e" stroke-width="2.8" stroke-linejoin="miter" stroke-linecap="butt" />
<text x="538.46" y="309.80" font-size="17.97" fill="#c9531b" textLength="34.20" lengthAdjust="spacingAndGlyphs" >H<tspan dy="5.03" font-size="14.50">3</tspan><tspan dy="-5.03">C</tspan></text>
<path d="M608.8,326.5 L614.6,313.0" fill="none" stroke="#ee7d1e" stroke-width="2.8" stroke-linejoin="miter" stroke-linecap="butt" />
<text x="613.41" y="308.90" font-size="17.39" fill="#c9531b" textLength="26.62" lengthAdjust="spacingAndGlyphs" >NH</text>
<path d="M641.5,303.0 L647.2,303.0 L655.7,289.0" fill="none" stroke="#ee7d1e" stroke-width="2.8" stroke-linejoin="miter" stroke-linecap="butt" />
<text x="654.16" y="286.10" font-size="18.84" fill="#c9531b" textLength="34.01" lengthAdjust="spacingAndGlyphs" >CH<tspan dy="5.28" font-size="14.50">3</tspan></text>
<path d="M579.7,466.0 L572.4,480.0" fill="none" stroke="#ee7d1e" stroke-width="2.8" stroke-linejoin="miter" stroke-linecap="butt" />
<text x="538.26" y="494.80" font-size="17.97" fill="#c9531b" textLength="33.70" lengthAdjust="spacingAndGlyphs" >H<tspan dy="5.03" font-size="14.50">3</tspan><tspan dy="-5.03">C</tspan></text>
<path d="M607.6,466.0 L615.1,480.3" fill="none" stroke="#ee7d1e" stroke-width="2.8" stroke-linejoin="miter" stroke-linecap="butt" />
<path d="M614.2,465.6 L622.7,480.3" fill="none" stroke="#ee7d1e" stroke-width="2.8" stroke-linejoin="miter" stroke-linecap="butt" />
<text x="613.62" y="496.00" font-size="18.55" fill="#c9531b" textLength="26.71" lengthAdjust="spacingAndGlyphs" >NH</text>
<text x="644.0" y="482.0" font-size="12" fill="#c9531b" text-anchor="middle" >+</text>
<path d="M641.2,489.3 L646.8,489.3 L655.5,503.0" fill="none" stroke="#ee7d1e" stroke-width="2.8" stroke-linejoin="miter" stroke-linecap="butt" />
<text x="655.22" y="520.00" font-size="17.54" fill="#c9531b" textLength="33.05" lengthAdjust="spacingAndGlyphs" >CH<tspan dy="4.91" font-size="14.50">3</tspan></text>
<text x="325.10" y="423.10" font-size="36.38" fill="#eb8226" textLength="121.11" lengthAdjust="spacingAndGlyphs" >Atto520</text>
<text x="0.15" y="28.40" font-size="37.5" fill="#000" stroke="#000" stroke-width="0.3" textLength="46.71" lengthAdjust="spacing" >(a)</text>
<text x="728.35" y="30.50" font-size="37.5" fill="#000" stroke="#000" stroke-width="0.3" textLength="48.01" lengthAdjust="spacing" >(b)</text>
<text x="1384.75" y="31.70" font-size="37.5" fill="#000" stroke="#000" stroke-width="0.3" textLength="46.31" lengthAdjust="spacing" >(c)</text>
<rect x="825.8" y="58.7" width="517.5" height="333.6" fill="none" stroke="#000" stroke-width="2.6"/>
<line x1="825.80" y1="169.50" x2="1343.30" y2="169.50" stroke="#000" stroke-width="2.6" />
<line x1="825.80" y1="281.00" x2="1343.30" y2="281.00" stroke="#000" stroke-width="2.6" />
<line x1="833.60" y1="68.50" x2="1340.30" y2="68.50" stroke="#000" stroke-width="3.5" stroke-linecap="round" stroke-dasharray="0 8.25"/>
<line x1="833.60" y1="119.00" x2="1340.30" y2="119.00" stroke="#000" stroke-width="3.5" stroke-linecap="round" stroke-dasharray="0 8.25"/>
<line x1="833.60" y1="179.50" x2="1340.30" y2="179.50" stroke="#000" stroke-width="3.5" stroke-linecap="round" stroke-dasharray="0 8.25"/>
<line x1="833.60" y1="230.25" x2="1340.30" y2="230.25" stroke="#000" stroke-width="3.5" stroke-linecap="round" stroke-dasharray="0 8.25"/>
<line x1="833.60" y1="290.80" x2="1340.30" y2="290.80" stroke="#000" stroke-width="3.5" stroke-linecap="round" stroke-dasharray="0 8.25"/>
<line x1="833.60" y1="341.55" x2="1340.30" y2="341.55" stroke="#000" stroke-width="3.5" stroke-linecap="round" stroke-dasharray="0 8.25"/>
<path d="M838.70,169.50 L839.36,169.23 L840.02,168.95 L840.68,168.68 L841.35,168.41 L842.01,168.14 L842.67,167.87 L843.33,167.61 L843.99,167.34 L844.65,167.08 L845.32,166.82 L845.98,166.56 L846.64,166.30 L847.30,166.04 L847.96,165.78 L848.62,165.53 L849.28,165.27 L849.95,165.02 L850.61,164.77 L851.27,164.52 L851.93,164.27 L852.59,164.02 L853.25,163.77 L853.91,163.53 L854.58,163.28 L855.24,163.04 L855.90,162.80 L856.56,162.56 L857.22,162.32 L857.88,162.08 L858.55,161.84 L859.21,161.61 L859.87,161.37 L860.53,161.14 L861.19,160.91 L861.85,160.68 L862.51,160.44 L863.18,160.22 L863.84,159.99 L864.50,159.76 L865.16,159.53 L865.82,159.31 L866.48,159.09 L867.14,158.86 L867.81,158.64 L868.47,158.42 L869.13,158.20 L869.79,157.98 L870.45,157.77 L871.11,157.55 L871.78,157.33 L872.44,157.12 L873.10,156.90 L873.76,156.69 L874.42,156.48 L875.08,156.27 L875.74,156.06 L876.41,155.85 L877.07,155.64 L877.73,155.44 L878.39,155.23 L879.05,155.03 L879.71,154.82 L880.37,154.62 L881.04,154.42 L881.70,154.22 L882.36,154.02 L883.02,153.82 L883.68,153.62 L884.34,153.42 L885.01,153.22 L885.67,153.03 L886.33,152.83 L886.99,152.64 L887.65,152.44 L888.31,152.25 L888.97,152.06 L889.64,151.87 L890.30,151.68 L890.96,151.49 L891.62,151.30 L892.28,151.11 L892.94,150.93 L893.60,150.74 L894.27,150.56 L894.93,150.37 L895.59,150.19 L896.25,150.01 L896.91,149.82 L897.57,149.64 L898.24,149.46 L898.90,149.28 L899.56,149.10 L900.22,148.93 L900.88,148.75 L901.54,148.57 L902.20,148.40 L902.87,148.22 L903.53,148.05 L904.19,147.87 L904.85,147.70 L907.50,147.02 L910.14,146.34 L912.79,145.68 L915.43,145.03 L918.08,144.39 L920.73,143.76 L923.37,143.14 L926.02,142.52 L928.66,141.92 L931.31,141.33 L933.96,140.75 L936.60,140.17 L939.25,139.60 L941.89,139.05 L944.54,138.50 L947.19,137.96 L949.83,137.42 L952.48,136.90 L955.12,136.38 L957.77,135.87 L960.42,135.36 L963.06,134.87 L965.71,134.38 L968.35,133.89 L971.00,133.42 L973.65,132.95 L976.29,132.49 L978.94,132.03 L981.58,131.58 L984.23,131.13 L986.88,130.69 L989.52,130.26 L992.17,129.83 L994.81,129.41 L997.46,129.00 L1000.11,128.58 L1002.75,128.18 L1005.40,127.78 L1008.04,127.38 L1010.69,126.99 L1013.34,126.61 L1015.98,126.22 L1018.63,125.85 L1021.27,125.48 L1023.92,125.11 L1026.57,124.75 L1029.21,124.39 L1031.86,124.03 L1034.50,123.68 L1037.15,123.34 L1039.80,123.00 L1042.44,122.66 L1045.09,122.32 L1047.73,121.99 L1050.38,121.67 L1053.03,121.34 L1055.67,121.02 L1058.32,120.71 L1060.96,120.40 L1063.61,120.09 L1066.26,119.78 L1068.90,119.48 L1071.55,119.18 L1074.19,118.89 L1076.84,118.60 L1079.49,118.31 L1082.13,118.02 L1084.78,117.74 L1087.42,117.46 L1090.07,117.18 L1092.72,116.91 L1095.36,116.64 L1098.01,116.37 L1100.65,116.10 L1103.30,115.84 L1105.95,115.58 L1108.59,115.32 L1111.24,115.07 L1113.88,114.82 L1116.53,114.57 L1119.18,114.32 L1121.82,114.07 L1124.47,113.83 L1127.11,113.59 L1129.76,113.35 L1132.41,113.12 L1135.05,112.89 L1137.70,112.65 L1140.34,112.43 L1142.99,112.20 L1145.64,111.97 L1148.28,111.75 L1150.93,111.53 L1153.57,111.31 L1156.22,111.10 L1158.87,110.88 L1161.51,110.67 L1164.16,110.46 L1166.80,110.25 L1169.45,110.05 L1172.10,109.84 L1174.74,109.64 L1177.39,109.44 L1180.03,109.24 L1182.68,109.04 L1185.33,108.85 L1187.97,108.65 L1190.62,108.46 L1193.26,108.27 L1195.91,108.08 L1198.56,107.90 L1201.20,107.71 L1203.85,107.53 L1206.49,107.34 L1209.14,107.16 L1211.79,106.98 L1214.43,106.81 L1217.08,106.63 L1219.72,106.46 L1222.37,106.28 L1225.02,106.11 L1227.66,105.94 L1230.31,105.77 L1232.95,105.60 L1235.60,105.44 L1238.25,105.27 L1240.89,105.11 L1243.54,104.95 L1246.18,104.79 L1248.83,104.63 L1251.48,104.47 L1254.12,104.31 L1256.77,104.15 L1259.41,104.00 L1262.06,103.85 L1264.71,103.69 L1267.35,103.54 L1270.00,103.39 L1272.64,103.24 L1275.29,103.10 L1277.94,102.95 L1280.58,102.80 L1283.23,102.66 L1285.87,102.52 L1288.52,102.38 L1291.17,102.23 L1293.81,102.09 L1296.46,101.96 L1299.10,101.82 L1301.75,101.68 L1304.40,101.54 L1307.04,101.41 L1309.69,101.28 L1312.33,101.14 L1314.98,101.01 L1317.63,100.88 L1320.27,100.75 L1322.92,100.62 L1325.56,100.49 L1328.21,100.37 L1330.86,100.24 L1333.50,100.11 L1336.15,99.99 L1338.79,99.87 L1341.44,99.74 L1343.30,99.66" fill="none" stroke="#5a8fd8" stroke-width="2.6"/>
<path d="M838.70,281.00 L839.36,277.73 L840.02,274.66 L840.68,271.77 L841.35,269.06 L842.01,266.50 L842.67,264.08 L843.33,261.80 L843.99,259.63 L844.65,257.58 L845.32,255.62 L845.98,253.77 L846.64,252.00 L847.30,250.31 L847.96,248.70 L848.62,247.17 L849.28,245.70 L849.95,244.29 L850.61,242.94 L851.27,241.64 L851.93,240.40 L852.59,239.21 L853.25,238.06 L853.91,236.95 L854.58,235.89 L855.24,234.86 L855.90,233.88 L856.56,232.92 L857.22,232.00 L857.88,231.11 L858.55,230.25 L859.21,229.42 L859.87,228.61 L860.53,227.83 L861.19,227.08 L861.85,226.35 L862.51,225.64 L863.18,224.95 L863.84,224.28 L864.50,223.63 L865.16,223.00 L865.82,222.39 L866.48,221.79 L867.14,221.21 L867.81,220.65 L868.47,220.10 L869.13,219.57 L869.79,219.05 L870.45,218.54 L871.11,218.04 L871.78,217.56 L872.44,217.09 L873.10,216.63 L873.76,216.19 L874.42,215.75 L875.08,215.32 L875.74,214.91 L876.41,214.50 L877.07,214.10 L877.73,213.71 L878.39,213.33 L879.05,212.96 L879.71,212.60 L880.37,212.24 L881.04,211.89 L881.70,211.55 L882.36,211.22 L883.02,210.89 L883.68,210.57 L884.34,210.26 L885.01,209.95 L885.67,209.65 L886.33,209.35 L886.99,209.06 L887.65,208.78 L888.31,208.50 L888.97,208.23 L889.64,207.96 L890.30,207.69 L890.96,207.44 L891.62,207.18 L892.28,206.93 L892.94,206.69 L893.60,206.45 L894.27,206.21 L894.93,205.98 L895.59,205.75 L896.25,205.53 L896.91,205.31 L897.57,205.09 L898.24,204.88 L898.90,204.67 L899.56,204.46 L900.22,204.26 L900.88,204.06 L901.54,203.86 L902.20,203.67 L902.87,203.48 L903.53,203.29 L904.19,203.10 L904.85,202.92 L907.50,202.22 L910.14,201.57 L912.79,200.94 L915.43,200.36 L918.08,199.80 L920.73,199.27 L923.37,198.77 L926.02,198.30 L928.66,197.84 L931.31,197.41 L933.96,197.00 L936.60,196.61 L939.25,196.23 L941.89,195.87 L944.54,195.53 L947.19,195.20 L949.83,194.88 L952.48,194.57 L955.12,194.28 L957.77,194.00 L960.42,193.73 L963.06,193.47 L965.71,193.22 L968.35,192.97 L971.00,192.74 L973.65,192.51 L976.29,192.29 L978.94,192.08 L981.58,191.88 L984.23,191.68 L986.88,191.49 L989.52,191.30 L992.17,191.12 L994.81,190.95 L997.46,190.78 L1000.11,190.61 L1002.75,190.45 L1005.40,190.30 L1008.04,190.15 L1010.69,190.00 L1013.34,189.86 L1015.98,189.72 L1018.63,189.58 L1021.27,189.45 L1023.92,189.32 L1026.57,189.20 L1029.21,189.08 L1031.86,188.96 L1034.50,188.84 L1037.15,188.73 L1039.80,188.62 L1042.44,188.51 L1045.09,188.40 L1047.73,188.30 L1050.38,188.20 L1053.03,188.10 L1055.67,188.01 L1058.32,187.91 L1060.96,187.82 L1063.61,187.73 L1066.26,187.64 L1068.90,187.56 L1071.55,187.47 L1074.19,187.39 L1076.84,187.31 L1079.49,187.23 L1082.13,187.15 L1084.78,187.07 L1087.42,187.00 L1090.07,186.93 L1092.72,186.86 L1095.36,186.78 L1098.01,186.72 L1100.65,186.65 L1103.30,186.58 L1105.95,186.52 L1108.59,186.45 L1111.24,186.39 L1113.88,186.33 L1116.53,186.27 L1119.18,186.21 L1121.82,186.15 L1124.47,186.09 L1127.11,186.03 L1129.76,185.98 L1132.41,185.92 L1135.05,185.87 L1137.70,185.82 L1140.34,185.77 L1142.99,185.71 L1145.64,185.66 L1148.28,185.61 L1150.93,185.57 L1153.57,185.52 L1156.22,185.47 L1158.87,185.42 L1161.51,185.38 L1164.16,185.33 L1166.80,185.29 L1169.45,185.25 L1172.10,185.20 L1174.74,185.16 L1177.39,185.12 L1180.03,185.08 L1182.68,185.04 L1185.33,185.00 L1187.97,184.96 L1190.62,184.92 L1193.26,184.88 L1195.91,184.84 L1198.56,184.80 L1201.20,184.77 L1203.85,184.73 L1206.49,184.70 L1209.14,184.66 L1211.79,184.63 L1214.43,184.59 L1217.08,184.56 L1219.72,184.52 L1222.37,184.49 L1225.02,184.46 L1227.66,184.43 L1230.31,184.40 L1232.95,184.36 L1235.60,184.33 L1238.25,184.30 L1240.89,184.27 L1243.54,184.24 L1246.18,184.21 L1248.83,184.18 L1251.48,184.16 L1254.12,184.13 L1256.77,184.10 L1259.41,184.07 L1262.06,184.04 L1264.71,184.02 L1267.35,183.99 L1270.00,183.96 L1272.64,183.94 L1275.29,183.91 L1277.94,183.89 L1280.58,183.86 L1283.23,183.84 L1285.87,183.81 L1288.52,183.79 L1291.17,183.76 L1293.81,183.74 L1296.46,183.72 L1299.10,183.69 L1301.75,183.67 L1304.40,183.65 L1307.04,183.63 L1309.69,183.60 L1312.33,183.58 L1314.98,183.56 L1317.63,183.54 L1320.27,183.52 L1322.92,183.50 L1325.56,183.48 L1328.21,183.45 L1330.86,183.43 L1333.50,183.41 L1336.15,183.39 L1338.79,183.37 L1341.44,183.35 L1343.30,183.34" fill="none" stroke="#5fbd1c" stroke-width="2.6"/>
<path d="M838.70,392.30 L839.36,389.66 L840.02,387.15 L840.68,384.76 L841.35,382.49 L842.01,380.32 L842.67,378.25 L843.33,376.27 L843.99,374.38 L844.65,372.57 L845.32,370.84 L845.98,369.17 L846.64,367.57 L847.30,366.04 L847.96,364.56 L848.62,363.14 L849.28,361.77 L849.95,360.46 L850.61,359.19 L851.27,357.96 L851.93,356.78 L852.59,355.63 L853.25,354.53 L853.91,353.46 L854.58,352.42 L855.24,351.42 L855.90,350.45 L856.56,349.51 L857.22,348.59 L857.88,347.71 L858.55,346.85 L859.21,346.01 L859.87,345.20 L860.53,344.42 L861.19,343.65 L861.85,342.91 L862.51,342.18 L863.18,341.48 L863.84,340.79 L864.50,340.12 L865.16,339.47 L865.82,338.83 L866.48,338.21 L867.14,337.61 L867.81,337.02 L868.47,336.44 L869.13,335.88 L869.79,335.33 L870.45,334.80 L871.11,334.28 L871.78,333.76 L872.44,333.26 L873.10,332.78 L873.76,332.30 L874.42,331.83 L875.08,331.37 L875.74,330.92 L876.41,330.49 L877.07,330.06 L877.73,329.64 L878.39,329.23 L879.05,328.82 L879.71,328.43 L880.37,328.04 L881.04,327.66 L881.70,327.29 L882.36,326.92 L883.02,326.56 L883.68,326.21 L884.34,325.86 L885.01,325.53 L885.67,325.19 L886.33,324.87 L886.99,324.55 L887.65,324.23 L888.31,323.92 L888.97,323.62 L889.64,323.32 L890.30,323.03 L890.96,322.74 L891.62,322.45 L892.28,322.18 L892.94,321.90 L893.60,321.63 L894.27,321.37 L894.93,321.11 L895.59,320.85 L896.25,320.60 L896.91,320.35 L897.57,320.10 L898.24,319.86 L898.90,319.63 L899.56,319.39 L900.22,319.16 L900.88,318.94 L901.54,318.71 L902.20,318.49 L902.87,318.28 L903.53,318.06 L904.19,317.85 L904.85,317.65 L907.50,316.85 L910.14,316.09 L912.79,315.38 L915.43,314.70 L918.08,314.06 L920.73,313.44 L923.37,312.86 L926.02,312.31 L928.66,311.78 L931.31,311.27 L933.96,310.79 L936.60,310.33 L939.25,309.88 L941.89,309.46 L944.54,309.05 L947.19,308.66 L949.83,308.28 L952.48,307.92 L955.12,307.57 L957.77,307.24 L960.42,306.91 L963.06,306.60 L965.71,306.30 L968.35,306.01 L971.00,305.73 L973.65,305.45 L976.29,305.19 L978.94,304.94 L981.58,304.69 L984.23,304.45 L986.88,304.22 L989.52,304.00 L992.17,303.78 L994.81,303.57 L997.46,303.36 L1000.11,303.16 L1002.75,302.97 L1005.40,302.78 L1008.04,302.59 L1010.69,302.41 L1013.34,302.24 L1015.98,302.07 L1018.63,301.91 L1021.27,301.75 L1023.92,301.59 L1026.57,301.44 L1029.21,301.29 L1031.86,301.14 L1034.50,301.00 L1037.15,300.86 L1039.80,300.72 L1042.44,300.59 L1045.09,300.46 L1047.73,300.34 L1050.38,300.21 L1053.03,300.09 L1055.67,299.97 L1058.32,299.86 L1060.96,299.75 L1063.61,299.63 L1066.26,299.53 L1068.90,299.42 L1071.55,299.32 L1074.19,299.21 L1076.84,299.11 L1079.49,299.02 L1082.13,298.92 L1084.78,298.83 L1087.42,298.73 L1090.07,298.64 L1092.72,298.55 L1095.36,298.47 L1098.01,298.38 L1100.65,298.30 L1103.30,298.22 L1105.95,298.13 L1108.59,298.06 L1111.24,297.98 L1113.88,297.90 L1116.53,297.83 L1119.18,297.75 L1121.82,297.68 L1124.47,297.61 L1127.11,297.54 L1129.76,297.47 L1132.41,297.40 L1135.05,297.33 L1137.70,297.27 L1140.34,297.20 L1142.99,297.14 L1145.64,297.08 L1148.28,297.01 L1150.93,296.95 L1153.57,296.89 L1156.22,296.84 L1158.87,296.78 L1161.51,296.72 L1164.16,296.66 L1166.80,296.61 L1169.45,296.55 L1172.10,296.50 L1174.74,296.45 L1177.39,296.40 L1180.03,296.34 L1182.68,296.29 L1185.33,296.24 L1187.97,296.19 L1190.62,296.15 L1193.26,296.10 L1195.91,296.05 L1198.56,296.00 L1201.20,295.96 L1203.85,295.91 L1206.49,295.87 L1209.14,295.82 L1211.79,295.78 L1214.43,295.74 L1217.08,295.70 L1219.72,295.65 L1222.37,295.61 L1225.02,295.57 L1227.66,295.53 L1230.31,295.49 L1232.95,295.45 L1235.60,295.41 L1238.25,295.38 L1240.89,295.34 L1243.54,295.30 L1246.18,295.26 L1248.83,295.23 L1251.48,295.19 L1254.12,295.16 L1256.77,295.12 L1259.41,295.09 L1262.06,295.05 L1264.71,295.02 L1267.35,294.98 L1270.00,294.95 L1272.64,294.92 L1275.29,294.89 L1277.94,294.85 L1280.58,294.82 L1283.23,294.79 L1285.87,294.76 L1288.52,294.73 L1291.17,294.70 L1293.81,294.67 L1296.46,294.64 L1299.10,294.61 L1301.75,294.58 L1304.40,294.55 L1307.04,294.53 L1309.69,294.50 L1312.33,294.47 L1314.98,294.44 L1317.63,294.42 L1320.27,294.39 L1322.92,294.36 L1325.56,294.34 L1328.21,294.31 L1330.86,294.28 L1333.50,294.26 L1336.15,294.23 L1338.79,294.21 L1341.44,294.18 L1343.30,294.17" fill="none" stroke="#ef7d16" stroke-width="2.6"/>
<circle cx="837.6" cy="170.3" r="7.9" fill="#6792d0" stroke="#33507f" stroke-width="1.3"/>
<circle cx="845.5" cy="166.1" r="7.9" fill="#6792d0" stroke="#33507f" stroke-width="1.3"/>
<circle cx="864.8" cy="162.8" r="7.9" fill="#6792d0" stroke="#33507f" stroke-width="1.3"/>
<circle cx="870.7" cy="159.7" r="7.9" fill="#6792d0" stroke="#33507f" stroke-width="1.3"/>
<circle cx="878.7" cy="155.1" r="7.9" fill="#6792d0" stroke="#33507f" stroke-width="1.3"/>
<circle cx="905.2" cy="153.1" r="7.9" fill="#6792d0" stroke="#33507f" stroke-width="1.3"/>
<circle cx="931.7" cy="140.2" r="7.9" fill="#6792d0" stroke="#33507f" stroke-width="1.3"/>
<circle cx="958.2" cy="140.5" r="7.9" fill="#6792d0" stroke="#33507f" stroke-width="1.3"/>
<circle cx="998.3" cy="129.7" r="7.9" fill="#6792d0" stroke="#33507f" stroke-width="1.3"/>
<circle cx="1037.7" cy="122.1" r="7.9" fill="#6792d0" stroke="#33507f" stroke-width="1.3"/>
<circle cx="1103.9" cy="117.3" r="7.9" fill="#6792d0" stroke="#33507f" stroke-width="1.3"/>
<circle cx="1170.6" cy="107.9" r="7.9" fill="#6792d0" stroke="#33507f" stroke-width="1.3"/>
<circle cx="1236" cy="107.9" r="7.9" fill="#6792d0" stroke="#33507f" stroke-width="1.3"/>
<circle cx="1303" cy="103.7" r="7.9" fill="#6792d0" stroke="#33507f" stroke-width="1.3"/>
<circle cx="838.6" cy="281.4" r="7.9" fill="#67bd1f" stroke="#3d7014" stroke-width="1.3"/>
<circle cx="842.7" cy="268.2" r="7.9" fill="#67bd1f" stroke="#3d7014" stroke-width="1.3"/>
<circle cx="845" cy="260.9" r="7.9" fill="#67bd1f" stroke="#3d7014" stroke-width="1.3"/>
<circle cx="849.1" cy="253.4" r="7.9" fill="#67bd1f" stroke="#3d7014" stroke-width="1.3"/>
<circle cx="858.6" cy="240.9" r="7.9" fill="#67bd1f" stroke="#3d7014" stroke-width="1.3"/>
<circle cx="865" cy="228" r="7.9" fill="#67bd1f" stroke="#3d7014" stroke-width="1.3"/>
<circle cx="863.6" cy="216.6" r="7.9" fill="#67bd1f" stroke="#3d7014" stroke-width="1.3"/>
<circle cx="871.6" cy="217.3" r="7.9" fill="#67bd1f" stroke="#3d7014" stroke-width="1.3"/>
<circle cx="878.4" cy="208.2" r="7.9" fill="#67bd1f" stroke="#3d7014" stroke-width="1.3"/>
<circle cx="905" cy="200.9" r="7.9" fill="#67bd1f" stroke="#3d7014" stroke-width="1.3"/>
<circle cx="931.1" cy="196.4" r="7.9" fill="#67bd1f" stroke="#3d7014" stroke-width="1.3"/>
<circle cx="958" cy="196.4" r="7.9" fill="#67bd1f" stroke="#3d7014" stroke-width="1.3"/>
<circle cx="997.7" cy="191.6" r="7.9" fill="#67bd1f" stroke="#3d7014" stroke-width="1.3"/>
<circle cx="1037.5" cy="190.7" r="7.9" fill="#67bd1f" stroke="#3d7014" stroke-width="1.3"/>
<circle cx="1103.5" cy="190.2" r="7.9" fill="#67bd1f" stroke="#3d7014" stroke-width="1.3"/>
<circle cx="838.2" cy="392.5" r="7.9" fill="#ee7e12" stroke="#8c4b14" stroke-width="1.3"/>
<circle cx="842.7" cy="382.3" r="7.9" fill="#ee7e12" stroke="#8c4b14" stroke-width="1.3"/>
<circle cx="845.5" cy="369.3" r="7.9" fill="#ee7e12" stroke="#8c4b14" stroke-width="1.3"/>
<circle cx="848.9" cy="359.5" r="7.9" fill="#ee7e12" stroke="#8c4b14" stroke-width="1.3"/>
<circle cx="858.6" cy="350.5" r="7.9" fill="#ee7e12" stroke="#8c4b14" stroke-width="1.3"/>
<circle cx="865.5" cy="344.3" r="7.9" fill="#ee7e12" stroke="#8c4b14" stroke-width="1.3"/>
<circle cx="864.1" cy="334.1" r="7.9" fill="#ee7e12" stroke="#8c4b14" stroke-width="1.3"/>
<circle cx="870.5" cy="333.4" r="7.9" fill="#ee7e12" stroke="#8c4b14" stroke-width="1.3"/>
<circle cx="878.4" cy="328.4" r="7.9" fill="#ee7e12" stroke="#8c4b14" stroke-width="1.3"/>
<circle cx="905" cy="321.6" r="7.9" fill="#ee7e12" stroke="#8c4b14" stroke-width="1.3"/>
<circle cx="931.1" cy="313.4" r="7.9" fill="#ee7e12" stroke="#8c4b14" stroke-width="1.3"/>
<circle cx="958" cy="306.1" r="7.9" fill="#ee7e12" stroke="#8c4b14" stroke-width="1.3"/>
<circle cx="998.2" cy="303.4" r="7.9" fill="#ee7e12" stroke="#8c4b14" stroke-width="1.3"/>
<circle cx="1037.4" cy="300" r="7.9" fill="#ee7e12" stroke="#8c4b14" stroke-width="1.3"/>
<circle cx="1103.7" cy="295.5" r="7.9" fill="#ee7e12" stroke="#8c4b14" stroke-width="1.3"/>
<line x1="838.70" y1="392.30" x2="838.70" y2="405.80" stroke="#000" stroke-width="2.6" />
<line x1="971.00" y1="392.30" x2="971.00" y2="405.80" stroke="#000" stroke-width="2.6" />
<line x1="1103.30" y1="392.30" x2="1103.30" y2="405.80" stroke="#000" stroke-width="2.6" />
<line x1="1235.60" y1="392.30" x2="1235.60" y2="405.80" stroke="#000" stroke-width="2.6" />
<line x1="904.85" y1="392.30" x2="904.85" y2="400.30" stroke="#000" stroke-width="2.6" />
<line x1="1037.15" y1="392.30" x2="1037.15" y2="400.30" stroke="#000" stroke-width="2.6" />
<line x1="1169.45" y1="392.30" x2="1169.45" y2="400.30" stroke="#000" stroke-width="2.6" />
<line x1="1301.75" y1="392.30" x2="1301.75" y2="400.30" stroke="#000" stroke-width="2.6" />
<text x="838.70" y="438.60" font-size="27.5" fill="#000" stroke="#000" stroke-width="0.3" text-anchor="middle" >0</text>
<text x="971.00" y="438.60" font-size="27.5" fill="#000" stroke="#000" stroke-width="0.3" text-anchor="middle" >1</text>
<text x="1103.30" y="438.60" font-size="27.5" fill="#000" stroke="#000" stroke-width="0.3" text-anchor="middle" >2</text>
<text x="1235.60" y="438.60" font-size="27.5" fill="#000" stroke="#000" stroke-width="0.3" text-anchor="middle" >3</text>
<text x="819.50" y="78.10" font-size="28.6" fill="#000" stroke="#000" stroke-width="0.3" text-anchor="end" >1</text>
<text x="819.50" y="131.05" font-size="28.6" fill="#000" stroke="#000" stroke-width="0.3" text-anchor="end" >0.5</text>
<text x="819.50" y="187.60" font-size="28.6" fill="#000" stroke="#000" stroke-width="0.3" text-anchor="end" >1</text>
<text x="819.50" y="240.40" font-size="28.6" fill="#000" stroke="#000" stroke-width="0.3" text-anchor="end" >0.5</text>
<text x="819.50" y="295.60" font-size="28.6" fill="#000" stroke="#000" stroke-width="0.3" text-anchor="end" >1</text>
<text x="819.50" y="349.30" font-size="28.6" fill="#000" stroke="#000" stroke-width="0.3" text-anchor="end" >0.5</text>
<text x="819.50" y="404.20" font-size="28.6" fill="#000" stroke="#000" stroke-width="0.3" text-anchor="end" >0</text>
<text x="958.90" y="479.30" font-size="33.8" fill="#000" stroke="#000" stroke-width="0.3" textLength="247.63" lengthAdjust="spacing" >EF-Tu-GTP (μM)</text>
<text transform="translate(770.30,388.83) rotate(-90)" x="0" y="0" font-size="32.9" fill="#000" stroke="#000" stroke-width="0.3" textLength="280.01" lengthAdjust="spacing">Fraction TC formed</text>
<text x="1265.72" y="91.70" font-size="32.3" fill="#5086c8" stroke="#5086c8" stroke-width="0" textLength="69.65" lengthAdjust="spacing" >NBD</text>
<text x="1194.22" y="215.60" font-size="32.3" fill="#55b520" stroke="#55b520" stroke-width="0" textLength="144.85" lengthAdjust="spacing" >BodipyFL</text>
<text x="1220.40" y="324.40" font-size="31.0" fill="#f08522" stroke="#f08522" stroke-width="0" textLength="117.72" lengthAdjust="spacing" >Atto520</text>
<text x="1065.34" y="157.40" font-size="33.3" fill="#000" stroke="#000" stroke-width="0.3" textLength="22.23" lengthAdjust="spacing" >K</text>
<text x="1091.40" y="165.00" font-size="22.6" fill="#000" stroke="#000" stroke-width="0.3" textLength="13.00" lengthAdjust="spacing" >d</text>
<text x="1115.66" y="157.70" font-size="32.8" fill="#000" stroke="#000" stroke-width="0.3" textLength="224.66" lengthAdjust="spacing" >= 1.9 ± 0.3 μM</text>
<text x="1043.44" y="266.90" font-size="33.3" fill="#000" stroke="#000" stroke-width="0.3" textLength="22.73" lengthAdjust="spacing" >K</text>
<text x="1065.70" y="274.30" font-size="22.6" fill="#000" stroke="#000" stroke-width="0.3" textLength="14.20" lengthAdjust="spacing" >d</text>
<text x="1091.06" y="266.70" font-size="32.8" fill="#000" stroke="#000" stroke-width="0.3" textLength="252.66" lengthAdjust="spacing" >=0.15 ± 0.02 μM</text>
<text x="1043.54" y="380.80" font-size="33.3" fill="#000" stroke="#000" stroke-width="0.3" textLength="22.63" lengthAdjust="spacing" >K</text>
<text x="1066.10" y="388.60" font-size="22.6" fill="#000" stroke="#000" stroke-width="0.3" textLength="13.70" lengthAdjust="spacing" >d</text>
<text x="1091.36" y="380.80" font-size="32.8" fill="#000" stroke="#000" stroke-width="0.3" textLength="252.26" lengthAdjust="spacing" >=0.19 ± 0.01 μM</text>
<rect x="1480.0" y="58.7" width="515.5" height="333.6" fill="none" stroke="#000" stroke-width="2.6"/>
<line x1="1480.00" y1="169.20" x2="1995.50" y2="169.20" stroke="#000" stroke-width="2.6" />
<line x1="1480.00" y1="281.00" x2="1995.50" y2="281.00" stroke="#000" stroke-width="2.6" />
<line x1="1486.50" y1="68.80" x2="1992.50" y2="68.80" stroke="#000" stroke-width="3.5" stroke-linecap="round" stroke-dasharray="0 8.25"/>
<line x1="1486.50" y1="119.30" x2="1992.50" y2="119.30" stroke="#000" stroke-width="3.5" stroke-linecap="round" stroke-dasharray="0 8.25"/>
<line x1="1486.50" y1="180.00" x2="1992.50" y2="180.00" stroke="#000" stroke-width="3.5" stroke-linecap="round" stroke-dasharray="0 8.25"/>
<line x1="1486.50" y1="230.50" x2="1992.50" y2="230.50" stroke="#000" stroke-width="3.5" stroke-linecap="round" stroke-dasharray="0 8.25"/>
<line x1="1486.50" y1="291.10" x2="1992.50" y2="291.10" stroke="#000" stroke-width="3.5" stroke-linecap="round" stroke-dasharray="0 8.25"/>
<line x1="1486.50" y1="341.70" x2="1992.50" y2="341.70" stroke="#000" stroke-width="3.5" stroke-linecap="round" stroke-dasharray="0 8.25"/>
<path d="M1495.20,77.89 L1496.00,79.93 L1496.81,81.88 L1497.61,83.74 L1498.41,85.52 L1499.22,87.23 L1500.02,88.86 L1500.82,90.43 L1501.62,91.94 L1502.43,93.39 L1503.23,94.79 L1504.03,96.13 L1504.84,97.42 L1505.64,98.67 L1506.44,99.87 L1507.25,101.04 L1508.05,102.16 L1508.85,103.24 L1509.65,104.29 L1510.46,105.30 L1511.26,106.29 L1512.06,107.24 L1512.87,108.16 L1513.67,109.05 L1514.47,109.92 L1515.28,110.76 L1516.08,111.58 L1516.88,112.37 L1517.68,113.14 L1518.49,113.89 L1519.29,114.62 L1520.09,115.33 L1520.90,116.02 L1521.70,116.69 L1522.50,117.34 L1523.31,117.98 L1524.11,118.60 L1524.91,119.20 L1525.71,119.79 L1526.52,120.37 L1527.32,120.93 L1528.12,121.48 L1528.93,122.01 L1529.73,122.54 L1530.53,123.05 L1531.34,123.55 L1532.14,124.04 L1532.94,124.51 L1533.74,124.98 L1534.55,125.43 L1535.35,125.88 L1536.15,126.32 L1536.96,126.75 L1537.76,127.16 L1538.56,127.57 L1539.37,127.98 L1540.17,128.37 L1540.97,128.76 L1541.77,129.13 L1542.58,129.50 L1543.38,129.87 L1544.18,130.22 L1544.99,130.57 L1545.79,130.92 L1546.59,131.25 L1547.39,131.58 L1548.20,131.91 L1549.00,132.22 L1549.80,132.54 L1550.61,132.84 L1551.41,133.14 L1552.21,133.44 L1553.02,133.73 L1553.82,134.02 L1554.62,134.30 L1555.42,134.57 L1556.23,134.85 L1557.03,135.11 L1557.83,135.37 L1558.64,135.63 L1559.44,135.89 L1560.24,136.14 L1561.05,136.38 L1561.85,136.62 L1562.65,136.86 L1563.45,137.10 L1564.26,137.33 L1565.06,137.55 L1565.86,137.78 L1566.67,138.00 L1567.47,138.22 L1568.27,138.43 L1569.08,138.64 L1569.88,138.85 L1570.68,139.05 L1571.49,139.25 L1572.29,139.45 L1573.09,139.65 L1573.89,139.84 L1574.70,140.03 L1575.50,140.22 L1579.52,141.12 L1583.53,141.96 L1587.55,142.75 L1591.56,143.48 L1595.58,144.18 L1599.59,144.83 L1603.61,145.45 L1607.62,146.03 L1611.63,146.59 L1615.65,147.11 L1619.66,147.61 L1623.68,148.08 L1627.69,148.53 L1631.71,148.96 L1635.72,149.37 L1639.74,149.76 L1643.76,150.13 L1647.77,150.49 L1651.79,150.83 L1655.80,151.16 L1659.82,151.48 L1663.83,151.78 L1667.85,152.07 L1671.86,152.35 L1675.88,152.62 L1679.89,152.88 L1683.90,153.13 L1687.92,153.37 L1691.93,153.60 L1695.95,153.83 L1699.97,154.05 L1703.98,154.26 L1708.00,154.46 L1712.01,154.66 L1716.03,154.85 L1720.04,155.03 L1724.06,155.21 L1728.07,155.39 L1732.09,155.55 L1736.10,155.72 L1740.12,155.88 L1744.13,156.03 L1748.14,156.18 L1752.16,156.33 L1756.17,156.47 L1760.19,156.61 L1764.20,156.74 L1768.22,156.87 L1772.24,157.00 L1776.25,157.13 L1780.27,157.25 L1784.28,157.37 L1788.30,157.48 L1792.31,157.59 L1796.33,157.70 L1800.34,157.81 L1804.36,157.92 L1808.37,158.02 L1812.38,158.12 L1816.40,158.22 L1820.41,158.31 L1824.43,158.40 L1828.44,158.50 L1832.46,158.59 L1836.47,158.67 L1840.49,158.76 L1844.51,158.84 L1848.52,158.92 L1852.54,159.00 L1856.55,159.08 L1860.57,159.16 L1864.58,159.24 L1868.60,159.31 L1872.61,159.38 L1876.62,159.45 L1880.64,159.52 L1884.65,159.59 L1888.67,159.66 L1892.68,159.73 L1896.70,159.79 L1900.72,159.86 L1904.73,159.92 L1908.74,159.98 L1912.76,160.04 L1916.78,160.10 L1920.79,160.16 L1924.81,160.21 L1928.82,160.27 L1932.84,160.33 L1936.85,160.38 L1940.87,160.43 L1944.88,160.49 L1948.89,160.54 L1952.91,160.59 L1956.92,160.64 L1960.94,160.69 L1964.95,160.74 L1968.97,160.78 L1972.99,160.83 L1977.00,160.88 L1981.01,160.92 L1985.03,160.97 L1989.05,161.01 L1993.06,161.06 L1997.08,161.10 L1999.50,161.12" fill="none" stroke="#5a8fd8" stroke-width="2.6"/>
<path d="M1495.20,186.06 L1496.00,187.51 L1496.81,188.91 L1497.61,190.28 L1498.41,191.60 L1499.22,192.89 L1500.02,194.14 L1500.82,195.36 L1501.62,196.54 L1502.43,197.70 L1503.23,198.82 L1504.03,199.91 L1504.84,200.98 L1505.64,202.02 L1506.44,203.03 L1507.25,204.02 L1508.05,204.98 L1508.85,205.92 L1509.65,206.84 L1510.46,207.73 L1511.26,208.61 L1512.06,209.46 L1512.87,210.30 L1513.67,211.12 L1514.47,211.92 L1515.28,212.70 L1516.08,213.46 L1516.88,214.21 L1517.68,214.94 L1518.49,215.66 L1519.29,216.36 L1520.09,217.05 L1520.90,217.72 L1521.70,218.38 L1522.50,219.03 L1523.31,219.66 L1524.11,220.28 L1524.91,220.89 L1525.71,221.49 L1526.52,222.07 L1527.32,222.65 L1528.12,223.21 L1528.93,223.77 L1529.73,224.31 L1530.53,224.84 L1531.34,225.37 L1532.14,225.88 L1532.94,226.39 L1533.74,226.89 L1534.55,227.37 L1535.35,227.85 L1536.15,228.32 L1536.96,228.79 L1537.76,229.24 L1538.56,229.69 L1539.37,230.13 L1540.17,230.57 L1540.97,230.99 L1541.77,231.41 L1542.58,231.83 L1543.38,232.23 L1544.18,232.63 L1544.99,233.03 L1545.79,233.41 L1546.59,233.79 L1547.39,234.17 L1548.20,234.54 L1549.00,234.90 L1549.80,235.26 L1550.61,235.62 L1551.41,235.97 L1552.21,236.31 L1553.02,236.65 L1553.82,236.98 L1554.62,237.31 L1555.42,237.63 L1556.23,237.95 L1557.03,238.27 L1557.83,238.58 L1558.64,238.89 L1559.44,239.19 L1560.24,239.49 L1561.05,239.78 L1561.85,240.07 L1562.65,240.36 L1563.45,240.64 L1564.26,240.92 L1565.06,241.19 L1565.86,241.47 L1566.67,241.73 L1567.47,242.00 L1568.27,242.26 L1569.08,242.52 L1569.88,242.77 L1570.68,243.02 L1571.49,243.27 L1572.29,243.52 L1573.09,243.76 L1573.89,244.00 L1574.70,244.24 L1575.50,244.47 L1579.52,245.60 L1583.53,246.66 L1587.55,247.66 L1591.56,248.61 L1595.58,249.52 L1599.59,250.37 L1603.61,251.18 L1607.62,251.96 L1611.63,252.69 L1615.65,253.39 L1619.66,254.06 L1623.68,254.70 L1627.69,255.32 L1631.71,255.90 L1635.72,256.47 L1639.74,257.01 L1643.76,257.52 L1647.77,258.02 L1651.79,258.50 L1655.80,258.96 L1659.82,259.41 L1663.83,259.83 L1667.85,260.25 L1671.86,260.64 L1675.88,261.03 L1679.89,261.40 L1683.90,261.76 L1687.92,262.11 L1691.93,262.44 L1695.95,262.77 L1699.97,263.08 L1703.98,263.39 L1708.00,263.69 L1712.01,263.97 L1716.03,264.25 L1720.04,264.52 L1724.06,264.79 L1728.07,265.04 L1732.09,265.29 L1736.10,265.54 L1740.12,265.77 L1744.13,266.00 L1748.14,266.22 L1752.16,266.44 L1756.17,266.65 L1760.19,266.86 L1764.20,267.06 L1768.22,267.26 L1772.24,267.45 L1776.25,267.64 L1780.27,267.82 L1784.28,268.00 L1788.30,268.17 L1792.31,268.34 L1796.33,268.51 L1800.34,268.67 L1804.36,268.83 L1808.37,268.99 L1812.38,269.14 L1816.40,269.29 L1820.41,269.43 L1824.43,269.58 L1828.44,269.72 L1832.46,269.85 L1836.47,269.99 L1840.49,270.12 L1844.51,270.25 L1848.52,270.37 L1852.54,270.50 L1856.55,270.62 L1860.57,270.74 L1864.58,270.85 L1868.60,270.97 L1872.61,271.08 L1876.62,271.19 L1880.64,271.30 L1884.65,271.41 L1888.67,271.51 L1892.68,271.61 L1896.70,271.71 L1900.72,271.81 L1904.73,271.91 L1908.74,272.01 L1912.76,272.10 L1916.78,272.19 L1920.79,272.28 L1924.81,272.37 L1928.82,272.46 L1932.84,272.55 L1936.85,272.63 L1940.87,272.72 L1944.88,272.80 L1948.89,272.88 L1952.91,272.96 L1956.92,273.04 L1960.94,273.11 L1964.95,273.19 L1968.97,273.26 L1972.99,273.34 L1977.00,273.41 L1981.01,273.48 L1985.03,273.55 L1989.05,273.62 L1993.06,273.69 L1997.08,273.76 L1999.50,273.80" fill="none" stroke="#5fbd1c" stroke-width="2.6"/>
<path d="M1495.20,297.17 L1496.00,299.02 L1496.81,300.79 L1497.61,302.50 L1498.41,304.14 L1499.22,305.73 L1500.02,307.26 L1500.82,308.73 L1501.62,310.15 L1502.43,311.53 L1503.23,312.86 L1504.03,314.14 L1504.84,315.39 L1505.64,316.59 L1506.44,317.76 L1507.25,318.89 L1508.05,319.99 L1508.85,321.05 L1509.65,322.09 L1510.46,323.09 L1511.26,324.06 L1512.06,325.01 L1512.87,325.93 L1513.67,326.82 L1514.47,327.70 L1515.28,328.54 L1516.08,329.37 L1516.88,330.17 L1517.68,330.96 L1518.49,331.72 L1519.29,332.47 L1520.09,333.19 L1520.90,333.90 L1521.70,334.59 L1522.50,335.27 L1523.31,335.93 L1524.11,336.57 L1524.91,337.20 L1525.71,337.81 L1526.52,338.41 L1527.32,339.00 L1528.12,339.58 L1528.93,340.14 L1529.73,340.69 L1530.53,341.23 L1531.34,341.75 L1532.14,342.27 L1532.94,342.77 L1533.74,343.27 L1534.55,343.75 L1535.35,344.23 L1536.15,344.70 L1536.96,345.15 L1537.76,345.60 L1538.56,346.04 L1539.37,346.47 L1540.17,346.89 L1540.97,347.31 L1541.77,347.72 L1542.58,348.12 L1543.38,348.51 L1544.18,348.89 L1544.99,349.27 L1545.79,349.64 L1546.59,350.01 L1547.39,350.37 L1548.20,350.72 L1549.00,351.07 L1549.80,351.41 L1550.61,351.74 L1551.41,352.07 L1552.21,352.40 L1553.02,352.72 L1553.82,353.03 L1554.62,353.34 L1555.42,353.64 L1556.23,353.94 L1557.03,354.23 L1557.83,354.52 L1558.64,354.81 L1559.44,355.09 L1560.24,355.37 L1561.05,355.64 L1561.85,355.91 L1562.65,356.17 L1563.45,356.43 L1564.26,356.69 L1565.06,356.94 L1565.86,357.19 L1566.67,357.43 L1567.47,357.68 L1568.27,357.91 L1569.08,358.15 L1569.88,358.38 L1570.68,358.61 L1571.49,358.83 L1572.29,359.06 L1573.09,359.28 L1573.89,359.49 L1574.70,359.71 L1575.50,359.92 L1579.52,360.93 L1583.53,361.88 L1587.55,362.77 L1591.56,363.61 L1595.58,364.40 L1599.59,365.14 L1603.61,365.85 L1607.62,366.52 L1611.63,367.16 L1615.65,367.76 L1619.66,368.33 L1623.68,368.88 L1627.69,369.40 L1631.71,369.90 L1635.72,370.37 L1639.74,370.83 L1643.76,371.26 L1647.77,371.68 L1651.79,372.08 L1655.80,372.46 L1659.82,372.83 L1663.83,373.19 L1667.85,373.53 L1671.86,373.86 L1675.88,374.18 L1679.89,374.48 L1683.90,374.78 L1687.92,375.06 L1691.93,375.34 L1695.95,375.60 L1699.97,375.86 L1703.98,376.11 L1708.00,376.35 L1712.01,376.58 L1716.03,376.81 L1720.04,377.03 L1724.06,377.24 L1728.07,377.45 L1732.09,377.65 L1736.10,377.84 L1740.12,378.03 L1744.13,378.22 L1748.14,378.40 L1752.16,378.57 L1756.17,378.74 L1760.19,378.90 L1764.20,379.07 L1768.22,379.22 L1772.24,379.37 L1776.25,379.52 L1780.27,379.67 L1784.28,379.81 L1788.30,379.95 L1792.31,380.08 L1796.33,380.22 L1800.34,380.34 L1804.36,380.47 L1808.37,380.59 L1812.38,380.71 L1816.40,380.83 L1820.41,380.95 L1824.43,381.06 L1828.44,381.17 L1832.46,381.28 L1836.47,381.38 L1840.49,381.48 L1844.51,381.59 L1848.52,381.68 L1852.54,381.78 L1856.55,381.88 L1860.57,381.97 L1864.58,382.06 L1868.60,382.15 L1872.61,382.24 L1876.62,382.32 L1880.64,382.41 L1884.65,382.49 L1888.67,382.57 L1892.68,382.65 L1896.70,382.73 L1900.72,382.81 L1904.73,382.88 L1908.74,382.96 L1912.76,383.03 L1916.78,383.10 L1920.79,383.17 L1924.81,383.24 L1928.82,383.31 L1932.84,383.38 L1936.85,383.44 L1940.87,383.51 L1944.88,383.57 L1948.89,383.64 L1952.91,383.70 L1956.92,383.76 L1960.94,383.82 L1964.95,383.88 L1968.97,383.94 L1972.99,383.99 L1977.00,384.05 L1981.01,384.10 L1985.03,384.16 L1989.05,384.21 L1993.06,384.26 L1997.08,384.32 L1999.50,384.35" fill="none" stroke="#ef7d16" stroke-width="2.6"/>
<circle cx="1495" cy="77.7" r="7.9" fill="#6792d0" stroke="#33507f" stroke-width="1.3"/>
<circle cx="1511.3" cy="106.9" r="7.9" fill="#6792d0" stroke="#33507f" stroke-width="1.3"/>
<circle cx="1535.2" cy="125.6" r="7.9" fill="#6792d0" stroke="#33507f" stroke-width="1.3"/>
<circle cx="1575.8" cy="138.1" r="7.9" fill="#6792d0" stroke="#33507f" stroke-width="1.3"/>
<circle cx="1656.7" cy="148.5" r="7.9" fill="#6792d0" stroke="#33507f" stroke-width="1.3"/>
<circle cx="1737" cy="149.7" r="7.9" fill="#6792d0" stroke="#33507f" stroke-width="1.3"/>
<circle cx="1737" cy="151" r="7.9" fill="#6792d0" stroke="#33507f" stroke-width="1.3"/>
<circle cx="1979.2" cy="156.3" r="7.9" fill="#6792d0" stroke="#33507f" stroke-width="1.3"/>
<circle cx="1494.8" cy="185.9" r="7.9" fill="#67bd1f" stroke="#3d7014" stroke-width="1.3"/>
<circle cx="1511.4" cy="204.4" r="7.9" fill="#67bd1f" stroke="#3d7014" stroke-width="1.3"/>
<circle cx="1535.2" cy="229.4" r="7.9" fill="#67bd1f" stroke="#3d7014" stroke-width="1.3"/>
<circle cx="1576.1" cy="253.8" r="7.9" fill="#67bd1f" stroke="#3d7014" stroke-width="1.3"/>
<circle cx="1656.5" cy="261.2" r="7.9" fill="#67bd1f" stroke="#3d7014" stroke-width="1.3"/>
<circle cx="1737" cy="261.2" r="7.9" fill="#67bd1f" stroke="#3d7014" stroke-width="1.3"/>
<circle cx="1737" cy="266.7" r="7.9" fill="#67bd1f" stroke="#3d7014" stroke-width="1.3"/>
<circle cx="1979" cy="273.7" r="7.9" fill="#67bd1f" stroke="#3d7014" stroke-width="1.3"/>
<circle cx="1494.8" cy="297.3" r="7.9" fill="#ee7e12" stroke="#8c4b14" stroke-width="1.3"/>
<circle cx="1511.4" cy="325.5" r="7.9" fill="#ee7e12" stroke="#8c4b14" stroke-width="1.3"/>
<circle cx="1535.6" cy="344.6" r="7.9" fill="#ee7e12" stroke="#8c4b14" stroke-width="1.3"/>
<circle cx="1576.5" cy="356.7" r="7.9" fill="#ee7e12" stroke="#8c4b14" stroke-width="1.3"/>
<circle cx="1656.5" cy="372.2" r="7.9" fill="#ee7e12" stroke="#8c4b14" stroke-width="1.3"/>
<circle cx="1737" cy="371.8" r="7.9" fill="#ee7e12" stroke="#8c4b14" stroke-width="1.3"/>
<circle cx="1737" cy="377.9" r="7.9" fill="#ee7e12" stroke="#8c4b14" stroke-width="1.3"/>
<circle cx="1979" cy="381.7" r="7.9" fill="#ee7e12" stroke="#8c4b14" stroke-width="1.3"/>
<line x1="1495.20" y1="392.30" x2="1495.20" y2="406.40" stroke="#000" stroke-width="2.6" />
<text x="1495.20" y="438.60" font-size="27.5" fill="#000" stroke="#000" stroke-width="0.3" text-anchor="middle" >0</text>
<line x1="1575.50" y1="392.30" x2="1575.50" y2="406.40" stroke="#000" stroke-width="2.6" />
<text x="1575.50" y="438.60" font-size="27.5" fill="#000" stroke="#000" stroke-width="0.3" text-anchor="middle" >10</text>
<line x1="1655.80" y1="392.30" x2="1655.80" y2="406.40" stroke="#000" stroke-width="2.6" />
<text x="1655.80" y="438.60" font-size="27.5" fill="#000" stroke="#000" stroke-width="0.3" text-anchor="middle" >20</text>
<line x1="1736.10" y1="392.30" x2="1736.10" y2="406.40" stroke="#000" stroke-width="2.6" />
<text x="1736.10" y="438.60" font-size="27.5" fill="#000" stroke="#000" stroke-width="0.3" text-anchor="middle" >30</text>
<line x1="1816.40" y1="392.30" x2="1816.40" y2="406.40" stroke="#000" stroke-width="2.6" />
<text x="1816.40" y="438.60" font-size="27.5" fill="#000" stroke="#000" stroke-width="0.3" text-anchor="middle" >40</text>
<line x1="1896.70" y1="392.30" x2="1896.70" y2="406.40" stroke="#000" stroke-width="2.6" />
<text x="1896.70" y="438.60" font-size="27.5" fill="#000" stroke="#000" stroke-width="0.3" text-anchor="middle" >50</text>
<line x1="1977.00" y1="392.30" x2="1977.00" y2="406.40" stroke="#000" stroke-width="2.6" />
<text x="1977.00" y="438.60" font-size="27.5" fill="#000" stroke="#000" stroke-width="0.3" text-anchor="middle" >60</text>
<text x="1474.80" y="78.10" font-size="28.6" fill="#000" stroke="#000" stroke-width="0.3" text-anchor="end" >1</text>
<text x="1474.80" y="131.05" font-size="28.6" fill="#000" stroke="#000" stroke-width="0.3" text-anchor="end" >0.5</text>
<text x="1474.80" y="187.60" font-size="28.6" fill="#000" stroke="#000" stroke-width="0.3" text-anchor="end" >1</text>
<text x="1474.80" y="240.40" font-size="28.6" fill="#000" stroke="#000" stroke-width="0.3" text-anchor="end" >0.5</text>
<text x="1474.80" y="295.60" font-size="28.6" fill="#000" stroke="#000" stroke-width="0.3" text-anchor="end" >1</text>
<text x="1474.80" y="349.30" font-size="28.6" fill="#000" stroke="#000" stroke-width="0.3" text-anchor="end" >0.5</text>
<text x="1474.80" y="404.20" font-size="28.6" fill="#000" stroke="#000" stroke-width="0.3" text-anchor="end" >0</text>
<text x="1676.92" y="479.20" font-size="33.8" fill="#000" stroke="#000" stroke-width="0.3" textLength="121.60" lengthAdjust="spacing" >TC (μM)</text>
<text transform="translate(1417.20,388.54) rotate(-90)" x="0" y="0" font-size="33.0" fill="#000" stroke="#000" stroke-width="0.3" textLength="283.42" lengthAdjust="spacing">Dipeptide formation</text>
<text x="1920.29" y="97.10" font-size="32.6" fill="#5086c8" stroke="#5086c8" stroke-width="0" textLength="70.68" lengthAdjust="spacing" >NBD</text>
<text x="1846.42" y="204.60" font-size="31.0" fill="#55b520" stroke="#55b520" stroke-width="0" textLength="144.90" lengthAdjust="spacing" >BodipyFL</text>
<text x="1875.00" y="320.20" font-size="32.3" fill="#f08522" stroke="#f08522" stroke-width="0" textLength="117.87" lengthAdjust="spacing" >Atto520</text>
<text x="1868.62" y="144.40" font-size="31.7" fill="#000" stroke="#000" stroke-width="0.3" textLength="43.58" lengthAdjust="spacing" >S=</text>
<text x="1925.91" y="144.40" font-size="31.7" fill="#000" stroke="#000" stroke-width="0.3" textLength="18.65" lengthAdjust="spacing" >9</text>
<text x="1865.65" y="258.10" font-size="30.9" fill="#000" stroke="#000" stroke-width="0.3" textLength="81.16" lengthAdjust="spacing" >S=10</text>
<text x="1868.16" y="372.20" font-size="30.7" fill="#000" stroke="#000" stroke-width="0.3" textLength="81.54" lengthAdjust="spacing" >S=10</text>
<rect x="1719.7" y="57.8" width="34.2" height="336.5" fill="none" stroke="#000" stroke-width="3.6" stroke-dasharray="8 4"/>
</svg>
</body></html>
